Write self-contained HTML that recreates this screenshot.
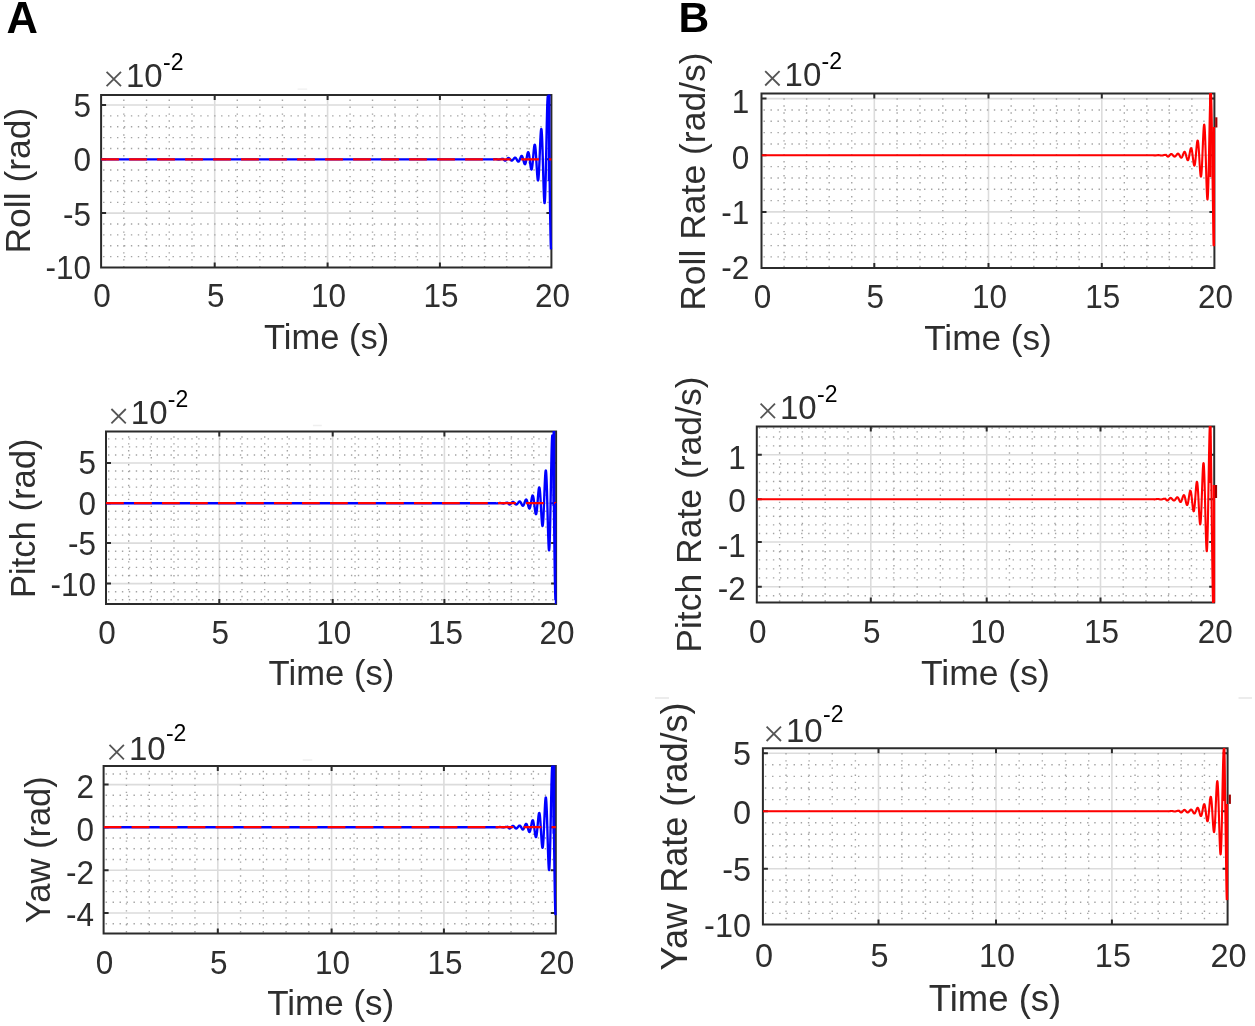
<!DOCTYPE html>
<html><head><meta charset="utf-8"><style>
html,body{margin:0;padding:0;background:#fff;width:1255px;height:1026px;overflow:hidden}
svg{display:block;will-change:transform}
</style></head><body>
<svg width="1255" height="1026" viewBox="0 0 1255 1026">
<rect width="1255" height="1026" fill="#fff"/>
<clipPath id="cA1"><rect x="101.1" y="94.9" width="450.3" height="172.6"/></clipPath>
<clipPath id="cA1d"><rect x="101.1" y="94.4" width="451.6" height="173.6"/></clipPath>
<g clip-path="url(#cA1)">
<path d="M214.7 94.9V267.5M327.6 94.9V267.5M439.9 94.9V267.5M101.1 105H551.4M101.1 159.3H551.4M101.1 213.1H551.4" stroke="#dcdcdc" stroke-width="1.6" fill="none"/>
<path d="M123.82 92.6V267.5M146.54 92.6V267.5M169.26 92.6V267.5M191.98 92.6V267.5M237.28 92.6V267.5M259.86 92.6V267.5M282.44 92.6V267.5M305.02 92.6V267.5M350.06 92.6V267.5M372.52 92.6V267.5M394.98 92.6V267.5M417.44 92.6V267.5M462.2 92.6V267.5M484.5 92.6V267.5M506.8 92.6V267.5M529.1 92.6V267.5M103.1 256.62H551.4M103.1 245.74H551.4M103.1 234.86H551.4M103.1 223.98H551.4M103.1 202.34H551.4M103.1 191.58H551.4M103.1 180.82H551.4M103.1 170.06H551.4M103.1 148.44H551.4M103.1 137.58H551.4M103.1 126.72H551.4M103.1 115.86H551.4" stroke="#a3a3a3" stroke-width="1.4" stroke-dasharray="1.4 5.54" fill="none"/>
</g>
<path d="M101.1 94.9H551.4V267.5H101.1ZM214.7 267.5v-5.0M214.7 94.9v5.0M327.6 267.5v-5.0M327.6 94.9v5.0M439.9 267.5v-5.0M439.9 94.9v5.0M101.1 105h5.0M551.4 105h-5.0M101.1 159.3h5.0M551.4 159.3h-5.0M101.1 213.1h5.0M551.4 213.1h-5.0M101.1 267.5h5.0M551.4 267.5h-5.0" stroke="#2b2b2b" stroke-width="2" fill="none" stroke-linejoin="miter"/>
<g clip-path="url(#cA1d)">
<polyline points="101.1,159.3 491,159.3 491.1,159.37 491.2,159.38 491.3,159.39 491.4,159.4 491.5,159.4 491.6,159.41 491.7,159.42 491.8,159.42 491.9,159.43 492,159.43 492.1,159.43 492.2,159.43 492.3,159.43 492.4,159.43 492.5,159.42 492.6,159.42 492.7,159.41 492.8,159.41 492.9,159.4 493,159.39 493.1,159.38 493.2,159.37 493.3,159.35 493.4,159.34 493.5,159.33 493.6,159.31 493.7,159.3 493.8,159.28 493.9,159.27 494,159.25 494.1,159.24 494.2,159.22 494.3,159.21 494.4,159.19 494.5,159.18 494.6,159.17 494.7,159.16 494.8,159.15 494.9,159.14 495,159.13 495.1,159.12 495.2,159.12 495.3,159.12 495.4,159.11 495.5,159.11 495.6,159.12 495.7,159.12 495.8,159.12 495.9,159.13 496,159.14 496.1,159.15 496.2,159.16 496.3,159.18 496.4,159.19 496.5,159.21 496.6,159.23 496.7,159.25 496.8,159.27 496.9,159.29 497,159.31 497.1,159.33 497.2,159.35 497.3,159.37 497.4,159.4 497.5,159.42 497.6,159.44 497.7,159.46 497.8,159.48 497.9,159.49 498,159.51 498.1,159.52 498.2,159.54 498.3,159.55 498.4,159.56 498.5,159.56 498.6,159.57 498.7,159.57 498.8,159.57 498.9,159.56 499,159.56 499.1,159.55 499.2,159.54 499.3,159.53 499.4,159.51 499.5,159.49 499.6,159.47 499.7,159.45 499.8,159.42 499.9,159.4 500,159.37 500.1,159.34 500.2,159.31 500.3,159.28 500.4,159.25 500.5,159.22 500.6,159.19 500.7,159.16 500.8,159.13 500.9,159.1 501,159.07 501.1,159.04 501.2,159.02 501.3,158.99 501.4,158.97 501.5,158.96 501.6,158.94 501.7,158.93 501.8,158.92 501.9,158.92 502,158.91 502.1,158.92 502.2,158.92 502.3,158.93 502.4,158.94 502.5,158.96 502.6,158.98 502.7,159 502.8,159.03 502.9,159.06 503,159.09 503.1,158.8 503.2,158.92 503.3,159.04 503.4,159.16 503.5,159.28 503.6,159.41 503.7,159.53 503.8,159.65 503.9,159.77 504,159.89 504.1,159.99 504.2,160.1 504.3,160.19 504.4,160.28 504.5,160.36 504.6,160.42 504.7,160.48 504.8,160.53 504.9,160.56 505,160.59 505.1,160.6 505.2,160.6 505.3,160.59 505.4,160.56 505.5,160.53 505.6,160.48 505.7,160.42 505.8,160.36 505.9,160.28 506,160.19 506.1,160.1 506.2,159.99 506.3,159.89 506.4,159.77 506.5,159.65 506.6,159.53 506.7,159.41 506.8,159.28 506.9,159.16 507,159.04 507.1,158.92 507.2,158.8 507.3,158.69 507.4,158.58 507.5,158.48 507.6,158.39 507.7,158.3 507.8,158.23 507.9,158.16 508,158.11 508.1,158.06 508.2,158.03 508.3,158.01 508.4,158 508.5,158 508.6,158.02 508.7,158.04 508.8,158.08 508.9,158.13 509,158.19 509.1,158.26 509.2,158.34 509.3,158.43 509.4,158.53 509.5,158.63 509.6,158.74 509.7,158.86 509.8,158.98 509.9,159.1 510,159.22 510.1,159.35 510.2,159.47 510.3,159.59 510.4,159.71 510.5,159.83 510.6,159.94 510.7,160.05 510.8,160.14 510.9,160.24 511,160.32 511.1,160.39 511.2,160.45 511.3,160.51 511.4,160.55 511.5,160.58 511.6,160.59 511.7,160.6 511.8,160.59 511.9,160.58 512,160.55 512.1,160.51 512.2,160.45 512.3,160.39 512.4,160.32 512.5,160.24 512.6,160.14 512.7,160.05 512.8,159.94 512.9,159.83 513,159.72 513.1,159.6 513.2,159.48 513.3,159.35 513.4,159.22 513.5,159.08 513.6,158.95 513.7,158.81 513.8,158.68 513.9,158.55 514,158.42 514.1,158.3 514.2,158.19 514.3,158.08 514.4,157.99 514.5,157.9 514.6,157.82 514.7,157.76 514.8,157.71 514.9,157.67 515,157.65 515.1,157.65 515.2,157.65 515.3,157.68 515.4,157.72 515.5,157.77 515.6,157.85 515.7,157.93 515.8,158.03 515.9,158.15 516,158.28 516.1,158.42 516.2,158.57 516.3,158.74 516.4,158.91 516.5,159.09 516.6,159.28 516.7,159.47 516.8,159.66 516.9,159.85 517,160.05 517.1,160.24 517.2,160.42 517.3,160.6 517.4,160.78 517.5,160.94 517.6,161.09 517.7,161.22 517.8,161.34 517.9,161.45 518,161.53 518.1,161.6 518.2,161.65 518.3,161.68 518.4,161.68 518.5,161.66 518.6,161.62 518.7,161.56 518.8,161.47 518.9,161.36 519,161.23 519.1,161.08 519.2,160.91 519.3,160.72 519.4,160.51 519.5,160.29 519.6,160.05 519.7,159.8 519.8,159.54 519.9,159.27 520,158.99 520.1,158.71 520.2,158.43 520.3,158.16 520.4,157.88 520.5,157.62 520.6,157.36 520.7,157.12 520.8,156.89 520.9,156.68 521,156.49 521.1,156.32 521.2,156.18 521.3,156.06 521.4,155.97 521.5,155.91 521.6,155.88 521.7,155.88 521.8,155.91 521.9,155.98 522,156.08 522.1,156.21 522.2,156.37 522.3,156.57 522.4,156.79 522.5,157.05 522.6,157.33 522.7,157.64 522.8,157.96 522.9,158.31 523,158.68 523.1,159.06 523.2,159.45 523.3,159.85 523.4,160.25 523.5,160.65 523.6,161.05 523.7,161.44 523.8,161.82 523.9,162.18 524,162.52 524.1,162.85 524.2,163.14 524.3,163.41 524.4,163.64 524.5,163.84 524.6,164 524.7,164.12 524.8,164.2 524.9,164.23 525,164.22 525.1,164.16 525.2,164.05 525.3,163.89 525.4,163.69 525.5,163.44 525.6,163.15 525.7,162.82 525.8,162.44 525.9,162.03 526,161.58 526.1,161.1 526.2,160.59 526.3,160.06 526.4,159.51 526.5,158.95 526.6,158.37 526.7,157.79 526.8,157.22 526.9,156.65 527,156.09 527.1,155.55 527.2,155.03 527.3,154.54 527.4,154.09 527.5,153.67 527.6,153.3 527.7,152.97 527.8,152.7 527.9,152.49 528,152.33 528.1,152.24 528.2,152.21 528.3,152.24 528.4,152.35 528.5,152.52 528.6,152.76 528.7,153.06 528.8,153.44 528.9,153.87 529,154.37 529.1,154.92 529.2,155.53 529.3,156.19 529.4,156.89 529.5,157.63 529.6,158.4 529.7,159.2 529.8,160.02 529.9,160.84 530,161.68 530.1,162.51 530.2,163.32 530.3,164.12 530.4,164.89 530.5,165.63 530.6,166.32 530.7,166.96 530.8,167.54 530.9,168.06 531,168.51 531.1,168.88 531.2,169.17 531.3,169.37 531.4,169.48 531.5,169.5 531.6,169.43 531.7,169.25 531.8,168.98 531.9,168.61 532,168.15 532.1,167.59 532.2,166.94 532.3,166.2 532.4,165.39 532.5,164.49 532.6,163.53 532.7,162.51 532.8,161.43 532.9,160.31 533,159.15 533.1,157.97 533.2,156.78 533.3,155.58 533.4,154.39 533.5,153.22 533.6,152.08 533.7,150.99 533.8,149.94 533.9,148.97 534,148.06 534.1,147.25 534.2,146.52 534.3,145.91 534.4,145.4 534.5,145.01 534.6,144.75 534.7,144.63 534.8,144.63 534.9,144.78 535,145.06 535.1,145.49 535.2,146.05 535.3,146.76 535.4,147.59 535.5,148.56 535.6,149.65 535.7,150.85 535.8,152.16 535.9,153.57 536,155.06 536.1,156.63 536.2,158.26 536.3,159.93 536.4,161.64 536.5,163.36 536.6,165.08 536.7,166.79 536.8,168.46 536.9,170.09 537,171.65 537.1,173.12 537.2,174.51 537.3,175.78 537.4,176.92 537.5,177.92 537.6,178.77 537.7,179.46 537.8,179.97 537.9,180.29 538,180.43 538.1,180.37 538.2,180.11 538.3,179.65 538.4,178.99 538.5,178.13 538.6,177.07 538.7,175.81 538.8,174.38 538.9,172.77 539,171 539.1,169.07 539.2,167.02 539.3,164.84 539.4,162.56 539.5,160.2 539.6,157.78 539.7,155.32 539.8,152.84 539.9,150.37 540,147.92 540.1,145.53 540.2,143.21 540.3,140.99 540.4,138.9 540.5,136.95 540.6,135.16 540.7,133.57 540.8,132.18 540.9,131.01 541,130.09 541.1,129.42 541.2,129.02 541.3,128.89 541.4,129.04 541.5,129.49 541.6,130.23 541.7,131.25 541.8,132.57 541.9,134.16 542,136.03 542.1,138.16 542.2,140.53 542.3,143.14 542.4,145.96 542.5,148.96 542.6,152.14 542.7,155.45 542.8,158.87 542.9,162.37 543,165.92 543.1,169.49 543.2,173.04 543.3,176.54 543.4,179.96 543.5,183.27 543.6,186.42 543.7,189.38 543.8,192.13 543.9,194.63 544,196.86 544.1,198.78 544.2,200.37 544.3,201.61 544.4,202.48 544.5,202.96 544.6,203.04 544.7,202.71 544.8,201.97 544.9,200.81 545,199.22 545.1,197.23 545.2,194.84 545.3,192.05 545.4,188.9 545.5,185.39 545.6,181.57 545.7,177.44 545.8,173.05 545.9,168.44 546,163.63 546.1,158.67 546.2,153.61 546.3,148.49 546.4,143.36 546.5,138.26 546.6,133.24 546.7,128.36 546.8,123.66 546.9,119.19 547,115 547.1,111.13 547.2,107.62 547.3,104.53 547.4,101.88 547.5,99.71 547.6,98.06 547.7,96.94 547.8,96.39 547.9,96.42 548,97.04 548.1,98.27 548.2,100.09 548.3,102.51 548.4,105.53 548.5,109.12 548.6,113.26 548.7,117.92 548.8,123.09 548.9,128.71 549,134.74 549.1,141.14 549.2,147.86 549.3,154.84 549.4,162.01 549.5,169.32 549.6,176.7 549.7,184.08 549.8,191.39 549.9,198.57 550,205.54 550.1,212.23 550.2,218.56 550.3,224.49 550.4,229.93 550.5,234.83 550.6,239.13 550.7,242.77 550.8,245.71 550.9,247.9 551,249.3" stroke="#0000ff" stroke-width="2.35" fill="none" stroke-linejoin="round"/>
<path d="M549.1 94V181" stroke="#0000ff" stroke-width="2.8"/>
<path d="M101.1 159.3H551.4" stroke="#ff0000" stroke-width="2.3" stroke-dasharray="17.8 10.2" fill="none"/>
</g>
<g font-family='"Liberation Sans", sans-serif' font-size="33" fill="#2e2e2e">
<text transform="translate(102.1 306.83) scale(0.955 1)" text-anchor="middle">0</text>
<text transform="translate(215.7 306.83) scale(0.955 1)" text-anchor="middle">5</text>
<text transform="translate(328.6 306.83) scale(0.955 1)" text-anchor="middle">10</text>
<text transform="translate(440.9 306.83) scale(0.955 1)" text-anchor="middle">15</text>
<text transform="translate(552.4 306.83) scale(0.955 1)" text-anchor="middle">20</text>
<text transform="translate(91 116.61) scale(0.955 1)" text-anchor="end">5</text>
<text transform="translate(91 171.21) scale(0.955 1)" text-anchor="end">0</text>
<text transform="translate(91 225.71) scale(0.955 1)" text-anchor="end">-5</text>
<text transform="translate(91 279.31) scale(0.955 1)" text-anchor="end">-10</text>
</g>
<text transform="translate(326.65 348.55) scale(0.972 1)" text-anchor="middle" font-family='"Liberation Sans", sans-serif' font-size="35.5" fill="#2e2e2e">Time (s)</text>
<text transform="translate(29.6 180.6) rotate(-90)" x="0" y="0" text-anchor="middle" font-family='"Liberation Sans", sans-serif' font-size="35.5" fill="#2e2e2e">Roll (rad)</text>
<path d="M106.6 71.8L121 86.2M121 71.8L106.6 86.2" stroke="#555" stroke-width="1.8"/>
<text x="126" y="86.8" font-family='"Liberation Sans", sans-serif' font-size="33" fill="#2e2e2e">10</text>
<text x="163" y="70" font-family='"Liberation Sans", sans-serif' font-size="23" fill="#000">-2</text>
<clipPath id="cA2"><rect x="106" y="431.6" width="450.1" height="172.4"/></clipPath>
<clipPath id="cA2d"><rect x="106" y="431.1" width="451.4" height="173.4"/></clipPath>
<g clip-path="url(#cA2)">
<path d="M219.3 431.6V604M332.7 431.6V604M444.4 431.6V604M106 463H556.1M106 503.2H556.1M106 543.1H556.1M106 583.6H556.1" stroke="#dcdcdc" stroke-width="1.6" fill="none"/>
<path d="M128.66 429.3V604M151.32 429.3V604M173.98 429.3V604M196.64 429.3V604M241.98 429.3V604M264.66 429.3V604M287.34 429.3V604M310.02 429.3V604M355.04 429.3V604M377.38 429.3V604M399.72 429.3V604M422.06 429.3V604M466.74 429.3V604M489.08 429.3V604M511.42 429.3V604M533.76 429.3V604M108 599.8H556.1M108 591.7H556.1M108 575.5H556.1M108 567.4H556.1M108 559.3H556.1M108 551.2H556.1M108 535.12H556.1M108 527.14H556.1M108 519.16H556.1M108 511.18H556.1M108 495.16H556.1M108 487.12H556.1M108 479.08H556.1M108 471.04H556.1M108 454.96H556.1M108 446.92H556.1M108 438.88H556.1" stroke="#a3a3a3" stroke-width="1.4" stroke-dasharray="1.4 5.54" fill="none"/>
</g>
<path d="M106 431.6H556.1V604H106ZM219.3 604v-5.0M219.3 431.6v5.0M332.7 604v-5.0M332.7 431.6v5.0M444.4 604v-5.0M444.4 431.6v5.0M106 463h5.0M556.1 463h-5.0M106 503.2h5.0M556.1 503.2h-5.0M106 543.1h5.0M556.1 543.1h-5.0M106 583.6h5.0M556.1 583.6h-5.0" stroke="#2b2b2b" stroke-width="2" fill="none" stroke-linejoin="miter"/>
<g clip-path="url(#cA2d)">
<polyline points="106,503.2 495.5,503.2 495.6,503.28 495.7,503.29 495.8,503.3 495.9,503.3 496,503.31 496.1,503.32 496.2,503.33 496.3,503.33 496.4,503.34 496.5,503.34 496.6,503.34 496.7,503.34 496.8,503.34 496.9,503.34 497,503.33 497.1,503.33 497.2,503.32 497.3,503.31 497.4,503.3 497.5,503.29 497.6,503.28 497.7,503.27 497.8,503.26 497.9,503.24 498,503.23 498.1,503.21 498.2,503.2 498.3,503.18 498.4,503.17 498.5,503.15 498.6,503.13 498.7,503.12 498.8,503.1 498.9,503.09 499,503.07 499.1,503.06 499.2,503.05 499.3,503.04 499.4,503.03 499.5,503.02 499.6,503.01 499.7,503 499.8,503 499.9,503 500,503 500.1,503 500.2,503.01 500.3,503.01 500.4,503.02 500.5,503.03 500.6,503.04 500.7,503.05 500.8,503.07 500.9,503.08 501,503.1 501.1,503.12 501.2,503.14 501.3,503.16 501.4,503.19 501.5,503.21 501.6,503.23 501.7,503.26 501.8,503.28 501.9,503.3 502,503.33 502.1,503.35 502.2,503.37 502.3,503.39 502.4,503.41 502.5,503.43 502.6,503.44 502.7,503.45 502.8,503.47 502.9,503.48 503,503.48 503.1,503.49 503.2,503.49 503.3,503.49 503.4,503.48 503.5,503.48 503.6,503.47 503.7,503.46 503.8,503.44 503.9,503.43 504,503.41 504.1,503.38 504.2,503.36 504.3,503.33 504.4,503.31 504.5,503.28 504.6,503.24 504.7,503.21 504.8,503.18 504.9,503.15 505,503.11 505.1,503.08 505.2,503.04 505.3,503.01 505.4,502.98 505.5,502.95 505.6,502.92 505.7,502.89 505.8,502.87 505.9,502.85 506,502.83 506.1,502.81 506.2,502.8 506.3,502.79 506.4,502.79 506.5,502.78 506.6,502.79 506.7,502.79 506.8,502.8 506.9,502.82 507,502.83 507.1,502.86 507.2,502.88 507.3,502.91 507.4,502.94 507.5,502.98 507.6,502.7 507.7,502.82 507.8,502.94 507.9,503.06 508,503.18 508.1,503.31 508.2,503.43 508.3,503.55 508.4,503.67 508.5,503.79 508.6,503.89 508.7,504 508.8,504.09 508.9,504.18 509,504.26 509.1,504.32 509.2,504.38 509.3,504.43 509.4,504.46 509.5,504.49 509.6,504.5 509.7,504.5 509.8,504.49 509.9,504.46 510,504.43 510.1,504.38 510.2,504.32 510.3,504.26 510.4,504.18 510.5,504.09 510.6,504 510.7,503.89 510.8,503.79 510.9,503.67 511,503.55 511.1,503.43 511.2,503.31 511.3,503.18 511.4,503.06 511.5,502.94 511.6,502.82 511.7,502.7 511.8,502.59 511.9,502.48 512,502.38 512.1,502.29 512.2,502.2 512.3,502.13 512.4,502.06 512.5,502.01 512.6,501.96 512.7,501.93 512.8,501.91 512.9,501.9 513,501.9 513.1,501.92 513.2,501.94 513.3,501.98 513.4,502.03 513.5,502.09 513.6,502.16 513.7,502.24 513.8,502.33 513.9,502.43 514,502.53 514.1,502.64 514.2,502.76 514.3,502.88 514.4,503 514.5,503.12 514.6,503.25 514.7,503.37 514.8,503.49 514.9,503.61 515,503.73 515.1,503.84 515.2,503.95 515.3,504.04 515.4,504.14 515.5,504.22 515.6,504.29 515.7,504.35 515.8,504.41 515.9,504.45 516,504.48 516.1,504.49 516.2,504.5 516.3,504.49 516.4,504.48 516.5,504.45 516.6,504.41 516.7,504.35 516.8,504.3 516.9,504.24 517,504.17 517.1,504.08 517.2,503.99 517.3,503.89 517.4,503.77 517.5,503.65 517.6,503.52 517.7,503.39 517.8,503.25 517.9,503.11 518,502.97 518.1,502.82 518.2,502.68 518.3,502.53 518.4,502.39 518.5,502.26 518.6,502.13 518.7,502 518.8,501.89 518.9,501.78 519,501.69 519.1,501.61 519.2,501.54 519.3,501.49 519.4,501.45 519.5,501.42 519.6,501.42 519.7,501.43 519.8,501.45 519.9,501.49 520,501.56 520.1,501.63 520.2,501.73 520.3,501.84 520.4,501.96 520.5,502.1 520.6,502.25 520.7,502.42 520.8,502.59 520.9,502.78 521,502.97 521.1,503.17 521.2,503.38 521.3,503.59 521.4,503.8 521.5,504.01 521.6,504.21 521.7,504.41 521.8,504.61 521.9,504.79 522,504.96 522.1,505.13 522.2,505.27 522.3,505.4 522.4,505.52 522.5,505.61 522.6,505.68 522.7,505.73 522.8,505.76 522.9,505.77 523,505.75 523.1,505.7 523.2,505.63 523.3,505.54 523.4,505.42 523.5,505.28 523.6,505.12 523.7,504.94 523.8,504.73 523.9,504.51 524,504.26 524.1,504.01 524.2,503.74 524.3,503.45 524.4,503.16 524.5,502.87 524.6,502.57 524.7,502.27 524.8,501.97 524.9,501.67 525,501.39 525.1,501.11 525.2,500.85 525.3,500.6 525.4,500.37 525.5,500.17 525.6,499.99 525.7,499.83 525.8,499.71 525.9,499.61 526,499.54 526.1,499.51 526.2,499.51 526.3,499.55 526.4,499.62 526.5,499.73 526.6,499.87 526.7,500.05 526.8,500.26 526.9,500.5 527,500.77 527.1,501.08 527.2,501.41 527.3,501.76 527.4,502.14 527.5,502.53 527.6,502.94 527.7,503.36 527.8,503.79 527.9,504.22 528,504.65 528.1,505.08 528.2,505.5 528.3,505.91 528.4,506.3 528.5,506.68 528.6,507.02 528.7,507.34 528.8,507.63 528.9,507.88 529,508.1 529.1,508.27 529.2,508.4 529.3,508.48 529.4,508.51 529.5,508.5 529.6,508.43 529.7,508.32 529.8,508.15 529.9,507.93 530,507.67 530.1,507.35 530.2,506.99 530.3,506.59 530.4,506.14 530.5,505.66 530.6,505.14 530.7,504.59 530.8,504.02 530.9,503.43 531,502.82 531.1,502.2 531.2,501.58 531.3,500.95 531.4,500.34 531.5,499.74 531.6,499.15 531.7,498.6 531.8,498.07 531.9,497.58 532,497.13 532.1,496.73 532.2,496.38 532.3,496.09 532.4,495.86 532.5,495.69 532.6,495.59 532.7,495.55 532.8,495.59 532.9,495.71 533,495.89 533.1,496.15 533.2,496.48 533.3,496.88 533.4,497.35 533.5,497.88 533.6,498.48 533.7,499.14 533.8,499.85 533.9,500.6 534,501.4 534.1,502.23 534.2,503.09 534.3,503.97 534.4,504.86 534.5,505.76 534.6,506.65 534.7,507.54 534.8,508.4 534.9,509.23 535,510.02 535.1,510.76 535.2,511.45 535.3,512.08 535.4,512.64 535.5,513.12 535.6,513.52 535.7,513.84 535.8,514.06 535.9,514.18 536,514.2 536.1,514.11 536.2,513.93 536.3,513.63 536.4,513.24 536.5,512.74 536.6,512.13 536.7,511.43 536.8,510.64 536.9,509.76 537,508.8 537.1,507.76 537.2,506.66 537.3,505.5 537.4,504.29 537.5,503.04 537.6,501.77 537.7,500.48 537.8,499.19 537.9,497.91 538,496.65 538.1,495.42 538.2,494.24 538.3,493.12 538.4,492.06 538.5,491.09 538.6,490.21 538.7,489.43 538.8,488.76 538.9,488.22 539,487.8 539.1,487.52 539.2,487.38 539.3,487.39 539.4,487.55 539.5,487.86 539.6,488.31 539.7,488.92 539.8,489.68 539.9,490.58 540,491.62 540.1,492.8 540.2,494.1 540.3,495.51 540.4,497.03 540.5,498.64 540.6,500.32 540.7,502.08 540.8,503.88 540.9,505.72 541,507.57 541.1,509.43 541.2,511.27 541.3,513.07 541.4,514.82 541.5,516.51 541.6,518.1 541.7,519.59 541.8,520.96 541.9,522.19 542,523.27 542.1,524.19 542.2,524.92 542.3,525.47 542.4,525.83 542.5,525.97 542.6,525.91 542.7,525.63 542.8,525.14 542.9,524.42 543,523.49 543.1,522.35 543.2,521 543.3,519.45 543.4,517.72 543.5,515.81 543.6,513.73 543.7,511.52 543.8,509.17 543.9,506.72 544,504.17 544.1,501.56 544.2,498.91 544.3,496.24 544.4,493.57 544.5,490.93 544.6,488.36 544.7,485.86 544.8,483.47 544.9,481.21 545,479.11 545.1,477.19 545.2,475.47 545.3,473.97 545.4,472.71 545.5,471.72 545.6,471 545.7,470.56 545.8,470.42 545.9,470.59 546,471.07 546.1,471.86 546.2,472.97 546.3,474.39 546.4,476.11 546.5,478.12 546.6,480.41 546.7,482.97 546.8,485.78 546.9,488.82 547,492.06 547.1,495.48 547.2,499.05 547.3,502.73 547.4,506.51 547.5,510.33 547.6,514.18 547.7,518.01 547.8,521.79 547.9,525.47 548,529.03 548.1,532.42 548.2,535.62 548.3,538.58 548.4,541.28 548.5,543.68 548.6,545.75 548.7,547.46 548.8,548.8 548.9,549.74 549,550.26 549.1,550.34 549.2,549.99 549.3,549.19 549.4,547.93 549.5,546.23 549.6,544.08 549.7,541.5 549.8,538.5 549.9,535.1 550,531.32 550.1,527.2 550.2,522.75 550.3,518.02 550.4,513.05 550.5,507.87 550.6,502.53 550.7,497.07 550.8,491.55 550.9,486.02 551,480.52 551.1,475.12 551.2,469.85 551.3,464.79 551.4,459.97 551.5,455.45 551.6,451.28 551.7,447.5 551.8,444.17 551.9,441.31 552,438.98 552.1,437.2 552.2,435.99 552.3,435.4 552.4,435.43 552.5,436.1 552.6,437.42 552.7,439.39 552.8,442 552.9,445.25 553,449.11 553.1,453.58 553.2,458.61 553.3,464.17 553.4,470.23 553.5,476.73 553.6,483.63 553.7,490.87 553.8,498.39 553.9,506.12 554,514 554.1,521.95 554.2,529.91 554.3,537.79 554.4,545.52 554.5,553.03 554.6,560.24 554.7,567.07 554.8,573.46 554.9,579.32 555,584.6 555.1,589.24 555.2,593.16 555.3,596.33 555.4,598.69 555.5,600.2" stroke="#0000ff" stroke-width="2.35" fill="none" stroke-linejoin="round"/>
<path d="M553.9 431V506" stroke="#0000ff" stroke-width="2.8"/>
<path d="M106 503.2H556.1" stroke="#ff0000" stroke-width="2.3" stroke-dasharray="17.8 10.2" fill="none"/>
<path d="M555.6 503V604" stroke="#0000ff" stroke-width="1.6"/>
</g>
<g font-family='"Liberation Sans", sans-serif' font-size="33" fill="#2e2e2e">
<text transform="translate(107 644.03) scale(0.955 1)" text-anchor="middle">0</text>
<text transform="translate(220.3 644.03) scale(0.955 1)" text-anchor="middle">5</text>
<text transform="translate(333.7 644.03) scale(0.955 1)" text-anchor="middle">10</text>
<text transform="translate(445.4 644.03) scale(0.955 1)" text-anchor="middle">15</text>
<text transform="translate(557.1 644.03) scale(0.955 1)" text-anchor="middle">20</text>
<text transform="translate(96 474.01) scale(0.955 1)" text-anchor="end">5</text>
<text transform="translate(96 514.91) scale(0.955 1)" text-anchor="end">0</text>
<text transform="translate(96 554.91) scale(0.955 1)" text-anchor="end">-5</text>
<text transform="translate(96 595.81) scale(0.955 1)" text-anchor="end">-10</text>
</g>
<text transform="translate(331.45 684.55) scale(0.976 1)" text-anchor="middle" font-family='"Liberation Sans", sans-serif' font-size="35.5" fill="#2e2e2e">Time (s)</text>
<text transform="translate(35 518.3) rotate(-90)" x="0" y="0" text-anchor="middle" font-family='"Liberation Sans", sans-serif' font-size="34.6" fill="#2e2e2e">Pitch (rad)</text>
<path d="M111.4 409L125.8 423.4M125.8 409L111.4 423.4" stroke="#555" stroke-width="1.8"/>
<text x="130.8" y="424" font-family='"Liberation Sans", sans-serif' font-size="33" fill="#2e2e2e">10</text>
<text x="167.8" y="407.2" font-family='"Liberation Sans", sans-serif' font-size="23" fill="#000">-2</text>
<clipPath id="cA3"><rect x="103.6" y="766.1" width="452.2" height="167.4"/></clipPath>
<clipPath id="cA3d"><rect x="103.6" y="765.6" width="453.5" height="168.4"/></clipPath>
<g clip-path="url(#cA3)">
<path d="M217.8 766.1V933.5M331.6 766.1V933.5M443.9 766.1V933.5M103.6 784.6H555.8M103.6 827.2H555.8M103.6 870.2H555.8M103.6 913H555.8" stroke="#dcdcdc" stroke-width="1.6" fill="none"/>
<path d="M126.44 763.8V933.5M149.28 763.8V933.5M172.12 763.8V933.5M194.96 763.8V933.5M240.56 763.8V933.5M263.32 763.8V933.5M286.08 763.8V933.5M308.84 763.8V933.5M354.06 763.8V933.5M376.52 763.8V933.5M398.98 763.8V933.5M421.44 763.8V933.5M466.28 763.8V933.5M488.66 763.8V933.5M511.04 763.8V933.5M533.42 763.8V933.5M105.6 923.7H555.8M105.6 902.3H555.8M105.6 891.6H555.8M105.6 880.9H555.8M105.6 859.45H555.8M105.6 848.7H555.8M105.6 837.95H555.8M105.6 816.55H555.8M105.6 805.9H555.8M105.6 795.25H555.8M105.6 773.95H555.8" stroke="#a3a3a3" stroke-width="1.4" stroke-dasharray="1.4 5.57" fill="none"/>
</g>
<path d="M103.6 766.1H555.8V933.5H103.6ZM217.8 933.5v-5.0M217.8 766.1v5.0M331.6 933.5v-5.0M331.6 766.1v5.0M443.9 933.5v-5.0M443.9 766.1v5.0M103.6 784.6h5.0M555.8 784.6h-5.0M103.6 827.2h5.0M555.8 827.2h-5.0M103.6 870.2h5.0M555.8 870.2h-5.0M103.6 913h5.0M555.8 913h-5.0" stroke="#2b2b2b" stroke-width="2" fill="none" stroke-linejoin="miter"/>
<g clip-path="url(#cA3d)">
<polyline points="103.6,827.2 495.5,827.2 495.6,827.27 495.7,827.28 495.8,827.29 495.9,827.3 496,827.3 496.1,827.31 496.2,827.31 496.3,827.32 496.4,827.32 496.5,827.33 496.6,827.33 496.7,827.33 496.8,827.33 496.9,827.32 497,827.32 497.1,827.32 497.2,827.31 497.3,827.3 497.4,827.29 497.5,827.29 497.6,827.28 497.7,827.26 497.8,827.25 497.9,827.24 498,827.23 498.1,827.21 498.2,827.2 498.3,827.18 498.4,827.17 498.5,827.15 498.6,827.14 498.7,827.12 498.8,827.11 498.9,827.1 499,827.08 499.1,827.07 499.2,827.06 499.3,827.05 499.4,827.04 499.5,827.03 499.6,827.03 499.7,827.02 499.8,827.02 499.9,827.02 500,827.02 500.1,827.02 500.2,827.02 500.3,827.03 500.4,827.04 500.5,827.04 500.6,827.05 500.7,827.07 500.8,827.08 500.9,827.1 501,827.11 501.1,827.13 501.2,827.15 501.3,827.17 501.4,827.19 501.5,827.21 501.6,827.23 501.7,827.25 501.8,827.27 501.9,827.29 502,827.31 502.1,827.33 502.2,827.35 502.3,827.37 502.4,827.39 502.5,827.4 502.6,827.42 502.7,827.43 502.8,827.44 502.9,827.45 503,827.46 503.1,827.46 503.2,827.46 503.3,827.46 503.4,827.46 503.5,827.45 503.6,827.44 503.7,827.43 503.8,827.42 503.9,827.4 504,827.39 504.1,827.37 504.2,827.35 504.3,827.32 504.4,827.3 504.5,827.27 504.6,827.24 504.7,827.21 504.8,827.18 504.9,827.15 505,827.12 505.1,827.09 505.2,827.06 505.3,827.03 505.4,827 505.5,826.97 505.6,826.95 505.7,826.92 505.8,826.9 505.9,826.88 506,826.86 506.1,826.85 506.2,826.84 506.3,826.83 506.4,826.82 506.5,826.82 506.6,826.82 506.7,826.83 506.8,826.84 506.9,826.85 507,826.87 507.1,826.89 507.2,826.91 507.3,826.94 507.4,826.97 507.5,827 507.6,826.7 507.7,826.82 507.8,826.94 507.9,827.06 508,827.18 508.1,827.31 508.2,827.43 508.3,827.55 508.4,827.67 508.5,827.79 508.6,827.89 508.7,828 508.8,828.09 508.9,828.18 509,828.26 509.1,828.32 509.2,828.38 509.3,828.43 509.4,828.46 509.5,828.49 509.6,828.5 509.7,828.5 509.8,828.49 509.9,828.46 510,828.43 510.1,828.38 510.2,828.32 510.3,828.26 510.4,828.18 510.5,828.09 510.6,828 510.7,827.89 510.8,827.79 510.9,827.67 511,827.55 511.1,827.43 511.2,827.31 511.3,827.18 511.4,827.06 511.5,826.94 511.6,826.82 511.7,826.7 511.8,826.59 511.9,826.48 512,826.38 512.1,826.29 512.2,826.2 512.3,826.13 512.4,826.06 512.5,826.01 512.6,825.96 512.7,825.93 512.8,825.91 512.9,825.9 513,825.9 513.1,825.92 513.2,825.94 513.3,825.98 513.4,826.03 513.5,826.09 513.6,826.16 513.7,826.24 513.8,826.33 513.9,826.43 514,826.53 514.1,826.64 514.2,826.76 514.3,826.88 514.4,827 514.5,827.12 514.6,827.25 514.7,827.37 514.8,827.49 514.9,827.61 515,827.73 515.1,827.84 515.2,827.95 515.3,828.04 515.4,828.14 515.5,828.22 515.6,828.29 515.7,828.35 515.8,828.41 515.9,828.45 516,828.48 516.1,828.49 516.2,828.5 516.3,828.49 516.4,828.48 516.5,828.45 516.6,828.41 516.7,828.35 516.8,828.29 516.9,828.22 517,828.14 517.1,828.04 517.2,827.95 517.3,827.84 517.4,827.73 517.5,827.61 517.6,827.49 517.7,827.37 517.8,827.25 517.9,827.12 518,826.99 518.1,826.86 518.2,826.72 518.3,826.59 518.4,826.47 518.5,826.34 518.6,826.23 518.7,826.11 518.8,826.01 518.9,825.92 519,825.83 519.1,825.76 519.2,825.69 519.3,825.65 519.4,825.61 519.5,825.59 519.6,825.58 519.7,825.59 519.8,825.61 519.9,825.65 520,825.71 520.1,825.78 520.2,825.86 520.3,825.96 520.4,826.08 520.5,826.2 520.6,826.34 520.7,826.49 520.8,826.65 520.9,826.82 521,826.99 521.1,827.18 521.2,827.36 521.3,827.55 521.4,827.74 521.5,827.93 521.6,828.12 521.7,828.3 521.8,828.48 521.9,828.64 522,828.8 522.1,828.95 522.2,829.08 522.3,829.2 522.4,829.3 522.5,829.39 522.6,829.45 522.7,829.5 522.8,829.52 522.9,829.53 523,829.51 523.1,829.47 523.2,829.41 523.3,829.32 523.4,829.22 523.5,829.09 523.6,828.94 523.7,828.77 523.8,828.59 523.9,828.38 524,828.17 524.1,827.93 524.2,827.69 524.3,827.43 524.4,827.17 524.5,826.9 524.6,826.62 524.7,826.35 524.8,826.08 524.9,825.81 525,825.55 525.1,825.3 525.2,825.07 525.3,824.84 525.4,824.64 525.5,824.45 525.6,824.29 525.7,824.14 525.8,824.03 525.9,823.94 526,823.88 526.1,823.85 526.2,823.85 526.3,823.89 526.4,823.95 526.5,824.05 526.6,824.18 526.7,824.34 526.8,824.53 526.9,824.75 527,825 527.1,825.27 527.2,825.57 527.3,825.89 527.4,826.23 527.5,826.59 527.6,826.96 527.7,827.34 527.8,827.73 527.9,828.13 528,828.52 528.1,828.91 528.2,829.29 528.3,829.66 528.4,830.02 528.5,830.35 528.6,830.67 528.7,830.96 528.8,831.22 528.9,831.45 529,831.64 529.1,831.8 529.2,831.91 529.3,831.99 529.4,832.02 529.5,832.01 529.6,831.95 529.7,831.84 529.8,831.69 529.9,831.49 530,831.25 530.1,830.97 530.2,830.64 530.3,830.27 530.4,829.87 530.5,829.43 530.6,828.96 530.7,828.46 530.8,827.94 530.9,827.41 531,826.85 531.1,826.29 531.2,825.73 531.3,825.16 531.4,824.6 531.5,824.06 531.6,823.53 531.7,823.02 531.8,822.55 531.9,822.1 532,821.69 532.1,821.33 532.2,821.01 532.3,820.75 532.4,820.54 532.5,820.38 532.6,820.29 532.7,820.26 532.8,820.3 532.9,820.4 533,820.57 533.1,820.8 533.2,821.1 533.3,821.47 533.4,821.89 533.5,822.38 533.6,822.92 533.7,823.51 533.8,824.16 533.9,824.84 534,825.57 534.1,826.32 534.2,827.1 534.3,827.9 534.4,828.71 534.5,829.52 534.6,830.33 534.7,831.13 534.8,831.91 534.9,832.67 535,833.38 535.1,834.06 535.2,834.69 535.3,835.26 535.4,835.77 535.5,836.2 535.6,836.57 535.7,836.85 535.8,837.05 535.9,837.16 536,837.18 536.1,837.1 536.2,836.93 536.3,836.67 536.4,836.31 536.5,835.85 536.6,835.31 536.7,834.67 536.8,833.95 536.9,833.15 537,832.28 537.1,831.34 537.2,830.34 537.3,829.28 537.4,828.19 537.5,827.06 537.6,825.9 537.7,824.73 537.8,823.56 537.9,822.4 538,821.26 538.1,820.14 538.2,819.07 538.3,818.05 538.4,817.09 538.5,816.21 538.6,815.41 538.7,814.71 538.8,814.1 538.9,813.61 539,813.23 539.1,812.98 539.2,812.85 539.3,812.86 539.4,813 539.5,813.28 539.6,813.7 539.7,814.25 539.8,814.94 539.9,815.75 540,816.7 540.1,817.76 540.2,818.94 540.3,820.22 540.4,821.6 540.5,823.06 540.6,824.59 540.7,826.18 540.8,827.82 540.9,829.49 541,831.17 541.1,832.85 541.2,834.52 541.3,836.16 541.4,837.75 541.5,839.27 541.6,840.72 541.7,842.07 541.8,843.31 541.9,844.43 542,845.41 542.1,846.24 542.2,846.91 542.3,847.41 542.4,847.73 542.5,847.86 542.6,847.8 542.7,847.55 542.8,847.1 542.9,846.45 543,845.61 543.1,844.57 543.2,843.35 543.3,841.94 543.4,840.37 543.5,838.64 543.6,836.76 543.7,834.75 543.8,832.62 543.9,830.39 544,828.08 544.1,825.71 544.2,823.31 544.3,820.88 544.4,818.46 544.5,816.07 544.6,813.73 544.7,811.47 544.8,809.3 544.9,807.25 545,805.34 545.1,803.6 545.2,802.04 545.3,800.68 545.4,799.54 545.5,798.64 545.6,797.98 545.7,797.59 545.8,797.46 545.9,797.62 546,798.05 546.1,798.77 546.2,799.78 546.3,801.06 546.4,802.62 546.5,804.45 546.6,806.53 546.7,808.85 546.8,811.4 546.9,814.15 547,817.09 547.1,820.19 547.2,823.43 547.3,826.78 547.4,830.2 547.5,833.67 547.6,837.16 547.7,840.64 547.8,844.06 547.9,847.4 548,850.63 548.1,853.71 548.2,856.61 548.3,859.3 548.4,861.75 548.5,863.92 548.6,865.8 548.7,867.35 548.8,868.57 548.9,869.42 549,869.89 549.1,869.97 549.2,869.65 549.3,868.92 549.4,867.78 549.5,866.24 549.6,864.29 549.7,861.95 549.8,859.23 549.9,856.14 550,852.71 550.1,848.97 550.2,844.94 550.3,840.65 550.4,836.13 550.5,831.43 550.6,826.59 550.7,821.64 550.8,816.63 550.9,811.61 551,806.63 551.1,801.72 551.2,796.95 551.3,792.35 551.4,787.98 551.5,783.88 551.6,780.1 551.7,776.67 551.8,773.64 551.9,771.06 552,768.94 552.1,767.32 552.2,766.23 552.3,765.69 552.4,765.72 552.5,766.33 552.6,767.52 552.7,769.31 552.8,771.68 552.9,774.62 553,778.13 553.1,782.18 553.2,786.74 553.3,791.79 553.4,797.29 553.5,803.19 553.6,809.45 553.7,816.01 553.8,822.83 553.9,829.85 554,837 554.1,844.21 554.2,851.43 554.3,858.58 554.4,865.6 554.5,872.41 554.6,878.95 554.7,885.15 554.8,890.94 554.9,896.26 555,901.05 555.1,905.25 555.2,908.81 555.3,911.69 555.4,913.83 555.5,915.2" stroke="#0000ff" stroke-width="2.35" fill="none" stroke-linejoin="round"/>
<path d="M553.9 765V833.7" stroke="#0000ff" stroke-width="2.8"/>
<path d="M103.6 827.2H555.8" stroke="#ff0000" stroke-width="2.3" stroke-dasharray="17.8 10.2" fill="none"/>
</g>
<g font-family='"Liberation Sans", sans-serif' font-size="33" fill="#2e2e2e">
<text transform="translate(104.6 974.33) scale(0.955 1)" text-anchor="middle">0</text>
<text transform="translate(218.8 974.33) scale(0.955 1)" text-anchor="middle">5</text>
<text transform="translate(332.6 974.33) scale(0.955 1)" text-anchor="middle">10</text>
<text transform="translate(444.9 974.33) scale(0.955 1)" text-anchor="middle">15</text>
<text transform="translate(556.8 974.33) scale(0.955 1)" text-anchor="middle">20</text>
<text transform="translate(94.1 798.31) scale(0.955 1)" text-anchor="end">2</text>
<text transform="translate(94.1 841.21) scale(0.955 1)" text-anchor="end">0</text>
<text transform="translate(94.1 884.11) scale(0.955 1)" text-anchor="end">-2</text>
<text transform="translate(94.1 925.51) scale(0.955 1)" text-anchor="end">-4</text>
</g>
<text transform="translate(330.7 1014.75) scale(0.987 1)" text-anchor="middle" font-family='"Liberation Sans", sans-serif' font-size="35.5" fill="#2e2e2e">Time (s)</text>
<text transform="translate(50.2 849.7) rotate(-90)" x="0" y="0" text-anchor="middle" font-family='"Liberation Sans", sans-serif' font-size="34.5" fill="#2e2e2e">Yaw (rad)</text>
<path d="M109.5 744.9L123.9 759.3M123.9 744.9L109.5 759.3" stroke="#555" stroke-width="1.8"/>
<text x="128.9" y="759.9" font-family='"Liberation Sans", sans-serif' font-size="33" fill="#2e2e2e">10</text>
<text x="165.9" y="741.1" font-family='"Liberation Sans", sans-serif' font-size="23" fill="#000">-2</text>
<clipPath id="cB1"><rect x="761.5" y="93.6" width="452.9" height="174.5"/></clipPath>
<clipPath id="cB1d"><rect x="761.5" y="93.1" width="454.2" height="175.5"/></clipPath>
<g clip-path="url(#cB1)">
<path d="M874.3 93.6V268.1M988.5 93.6V268.1M1101.8 93.6V268.1M761.5 98.6H1214.4M761.5 155.3H1214.4M761.5 211.9H1214.4" stroke="#dcdcdc" stroke-width="1.6" fill="none"/>
<path d="M784.06 91.3V268.1M806.62 91.3V268.1M829.18 91.3V268.1M851.74 91.3V268.1M897.14 91.3V268.1M919.98 91.3V268.1M942.82 91.3V268.1M965.66 91.3V268.1M1011.16 91.3V268.1M1033.82 91.3V268.1M1056.48 91.3V268.1M1079.14 91.3V268.1M1124.32 91.3V268.1M1146.84 91.3V268.1M1169.36 91.3V268.1M1191.88 91.3V268.1M763.5 256.86H1214.4M763.5 245.62H1214.4M763.5 234.38H1214.4M763.5 223.14H1214.4M763.5 200.58H1214.4M763.5 189.26H1214.4M763.5 177.94H1214.4M763.5 166.62H1214.4M763.5 143.96H1214.4M763.5 132.62H1214.4M763.5 121.28H1214.4M763.5 109.94H1214.4" stroke="#a3a3a3" stroke-width="1.4" stroke-dasharray="1.4 5.58" fill="none"/>
</g>
<path d="M761.5 93.6H1214.4V268.1H761.5ZM874.3 268.1v-5.0M874.3 93.6v5.0M988.5 268.1v-5.0M988.5 93.6v5.0M1101.8 268.1v-5.0M1101.8 93.6v5.0M761.5 98.6h5.0M1214.4 98.6h-5.0M761.5 155.3h5.0M1214.4 155.3h-5.0M761.5 211.9h5.0M1214.4 211.9h-5.0M761.5 268.1h5.0M1214.4 268.1h-5.0" stroke="#2b2b2b" stroke-width="2" fill="none" stroke-linejoin="miter"/>
<g clip-path="url(#cB1d)">
<polyline points="761.5,155.3 1153.9,155.3 1154,155.37 1154.1,155.38 1154.2,155.39 1154.3,155.4 1154.4,155.41 1154.5,155.41 1154.6,155.42 1154.7,155.42 1154.8,155.43 1154.9,155.43 1155,155.43 1155.1,155.43 1155.2,155.43 1155.3,155.43 1155.4,155.42 1155.5,155.42 1155.6,155.41 1155.7,155.41 1155.8,155.4 1155.9,155.39 1156,155.38 1156.1,155.37 1156.2,155.35 1156.3,155.34 1156.4,155.33 1156.5,155.31 1156.6,155.3 1156.7,155.28 1156.8,155.27 1156.9,155.25 1157,155.24 1157.1,155.22 1157.2,155.21 1157.3,155.19 1157.4,155.18 1157.5,155.17 1157.6,155.16 1157.7,155.15 1157.8,155.14 1157.9,155.13 1158,155.12 1158.1,155.12 1158.2,155.11 1158.3,155.11 1158.4,155.11 1158.5,155.11 1158.6,155.12 1158.7,155.12 1158.8,155.13 1158.9,155.14 1159,155.15 1159.1,155.16 1159.2,155.18 1159.3,155.19 1159.4,155.21 1159.5,155.23 1159.6,155.25 1159.7,155.27 1159.8,155.29 1159.9,155.31 1160,155.33 1160.1,155.35 1160.2,155.37 1160.3,155.4 1160.4,155.42 1160.5,155.44 1160.6,155.46 1160.7,155.48 1160.8,155.5 1160.9,155.51 1161,155.53 1161.1,155.54 1161.2,155.55 1161.3,155.56 1161.4,155.57 1161.5,155.57 1161.6,155.57 1161.7,155.57 1161.8,155.57 1161.9,155.56 1162,155.55 1162.1,155.54 1162.2,155.53 1162.3,155.51 1162.4,155.49 1162.5,155.47 1162.6,155.45 1162.7,155.43 1162.8,155.4 1162.9,155.37 1163,155.34 1163.1,155.31 1163.2,155.28 1163.3,155.25 1163.4,155.22 1163.5,155.19 1163.6,155.15 1163.7,155.12 1163.8,155.09 1163.9,155.07 1164,155.04 1164.1,155.01 1164.2,154.99 1164.3,154.97 1164.4,154.95 1164.5,154.94 1164.6,154.93 1164.7,154.92 1164.8,154.91 1164.9,154.91 1165,154.91 1165.1,154.92 1165.2,154.93 1165.3,154.94 1165.4,154.96 1165.5,154.98 1165.6,155 1165.7,155.03 1165.8,155.06 1165.9,155.09 1166,154.8 1166.1,154.92 1166.2,155.04 1166.3,155.16 1166.4,155.28 1166.5,155.41 1166.6,155.53 1166.7,155.65 1166.8,155.77 1166.9,155.89 1167,155.99 1167.1,156.1 1167.2,156.19 1167.3,156.28 1167.4,156.36 1167.5,156.42 1167.6,156.48 1167.7,156.53 1167.8,156.56 1167.9,156.59 1168,156.6 1168.1,156.6 1168.2,156.59 1168.3,156.56 1168.4,156.53 1168.5,156.48 1168.6,156.42 1168.7,156.36 1168.8,156.28 1168.9,156.19 1169,156.1 1169.1,155.99 1169.2,155.89 1169.3,155.77 1169.4,155.65 1169.5,155.53 1169.6,155.41 1169.7,155.28 1169.8,155.16 1169.9,155.04 1170,154.92 1170.1,154.8 1170.2,154.69 1170.3,154.58 1170.4,154.48 1170.5,154.39 1170.6,154.3 1170.7,154.23 1170.8,154.16 1170.9,154.11 1171,154.06 1171.1,154.03 1171.2,154.01 1171.3,154 1171.4,154 1171.5,154.02 1171.6,154.04 1171.7,154.08 1171.8,154.13 1171.9,154.19 1172,154.26 1172.1,154.34 1172.2,154.43 1172.3,154.53 1172.4,154.63 1172.5,154.74 1172.6,154.86 1172.7,154.98 1172.8,155.1 1172.9,155.22 1173,155.35 1173.1,155.47 1173.2,155.59 1173.3,155.71 1173.4,155.83 1173.5,155.94 1173.6,156.05 1173.7,156.14 1173.8,156.24 1173.9,156.32 1174,156.39 1174.1,156.45 1174.2,156.51 1174.3,156.55 1174.4,156.58 1174.5,156.59 1174.6,156.6 1174.7,156.59 1174.8,156.58 1174.9,156.55 1175,156.51 1175.1,156.45 1175.2,156.39 1175.3,156.32 1175.4,156.24 1175.5,156.14 1175.6,156.05 1175.7,155.94 1175.8,155.84 1175.9,155.72 1176,155.6 1176.1,155.48 1176.2,155.35 1176.3,155.22 1176.4,155.08 1176.5,154.94 1176.6,154.81 1176.7,154.67 1176.8,154.54 1176.9,154.41 1177,154.29 1177.1,154.18 1177.2,154.07 1177.3,153.97 1177.4,153.88 1177.5,153.81 1177.6,153.74 1177.7,153.69 1177.8,153.66 1177.9,153.63 1178,153.63 1178.1,153.64 1178.2,153.66 1178.3,153.7 1178.4,153.76 1178.5,153.83 1178.6,153.92 1178.7,154.02 1178.8,154.14 1178.9,154.27 1179,154.41 1179.1,154.57 1179.2,154.73 1179.3,154.91 1179.4,155.09 1179.5,155.28 1179.6,155.47 1179.7,155.66 1179.8,155.86 1179.9,156.06 1180,156.25 1180.1,156.44 1180.2,156.62 1180.3,156.79 1180.4,156.96 1180.5,157.11 1180.6,157.24 1180.7,157.37 1180.8,157.47 1180.9,157.56 1181,157.63 1181.1,157.68 1181.2,157.7 1181.3,157.71 1181.4,157.69 1181.5,157.65 1181.6,157.58 1181.7,157.5 1181.8,157.39 1181.9,157.26 1182,157.1 1182.1,156.93 1182.2,156.74 1182.3,156.53 1182.4,156.3 1182.5,156.06 1182.6,155.8 1182.7,155.54 1182.8,155.27 1182.9,154.99 1183,154.71 1183.1,154.42 1183.2,154.14 1183.3,153.87 1183.4,153.6 1183.5,153.34 1183.6,153.09 1183.7,152.86 1183.8,152.65 1183.9,152.46 1184,152.29 1184.1,152.14 1184.2,152.02 1184.3,151.93 1184.4,151.87 1184.5,151.84 1184.6,151.84 1184.7,151.87 1184.8,151.94 1184.9,152.04 1185,152.18 1185.1,152.34 1185.2,152.54 1185.3,152.77 1185.4,153.02 1185.5,153.31 1185.6,153.62 1185.7,153.95 1185.8,154.3 1185.9,154.67 1186,155.05 1186.1,155.45 1186.2,155.85 1186.3,156.26 1186.4,156.66 1186.5,157.07 1186.6,157.46 1186.7,157.84 1186.8,158.21 1186.9,158.56 1187,158.89 1187.1,159.19 1187.2,159.46 1187.3,159.69 1187.4,159.89 1187.5,160.05 1187.6,160.17 1187.7,160.25 1187.8,160.28 1187.9,160.27 1188,160.21 1188.1,160.1 1188.2,159.94 1188.3,159.74 1188.4,159.49 1188.5,159.2 1188.6,158.86 1188.7,158.48 1188.8,158.06 1188.9,157.61 1189,157.12 1189.1,156.61 1189.2,156.07 1189.3,155.51 1189.4,154.94 1189.5,154.36 1189.6,153.78 1189.7,153.19 1189.8,152.62 1189.9,152.05 1190,151.5 1190.1,150.98 1190.2,150.49 1190.3,150.03 1190.4,149.61 1190.5,149.23 1190.6,148.9 1190.7,148.63 1190.8,148.41 1190.9,148.25 1191,148.16 1191.1,148.13 1191.2,148.16 1191.3,148.27 1191.4,148.44 1191.5,148.68 1191.6,148.99 1191.7,149.37 1191.8,149.81 1191.9,150.31 1192,150.87 1192.1,151.49 1192.2,152.15 1192.3,152.86 1192.4,153.61 1192.5,154.39 1192.6,155.2 1192.7,156.02 1192.8,156.86 1192.9,157.7 1193,158.54 1193.1,159.37 1193.2,160.17 1193.3,160.95 1193.4,161.7 1193.5,162.4 1193.6,163.04 1193.7,163.63 1193.8,164.16 1193.9,164.61 1194,164.99 1194.1,165.28 1194.2,165.48 1194.3,165.6 1194.4,165.62 1194.5,165.54 1194.6,165.36 1194.7,165.09 1194.8,164.72 1194.9,164.25 1195,163.68 1195.1,163.03 1195.2,162.28 1195.3,161.45 1195.4,160.55 1195.5,159.58 1195.6,158.54 1195.7,157.45 1195.8,156.32 1195.9,155.15 1196,153.96 1196.1,152.75 1196.2,151.54 1196.3,150.34 1196.4,149.15 1196.5,148 1196.6,146.89 1196.7,145.84 1196.8,144.85 1196.9,143.94 1197,143.11 1197.1,142.38 1197.2,141.76 1197.3,141.25 1197.4,140.86 1197.5,140.59 1197.6,140.46 1197.7,140.47 1197.8,140.62 1197.9,140.9 1198,141.33 1198.1,141.91 1198.2,142.62 1198.3,143.46 1198.4,144.44 1198.5,145.54 1198.6,146.76 1198.7,148.08 1198.8,149.51 1198.9,151.02 1199,152.6 1199.1,154.25 1199.2,155.94 1199.3,157.66 1199.4,159.4 1199.5,161.14 1199.6,162.87 1199.7,164.56 1199.8,166.21 1199.9,167.78 1200,169.28 1200.1,170.68 1200.2,171.96 1200.3,173.11 1200.4,174.13 1200.5,174.99 1200.6,175.68 1200.7,176.2 1200.8,176.53 1200.9,176.67 1201,176.61 1201.1,176.34 1201.2,175.88 1201.3,175.21 1201.4,174.34 1201.5,173.26 1201.6,172 1201.7,170.55 1201.8,168.92 1201.9,167.13 1202,165.18 1202.1,163.1 1202.2,160.9 1202.3,158.6 1202.4,156.21 1202.5,153.76 1202.6,151.27 1202.7,148.77 1202.8,146.27 1202.9,143.79 1203,141.37 1203.1,139.03 1203.2,136.79 1203.3,134.67 1203.4,132.7 1203.5,130.9 1203.6,129.28 1203.7,127.88 1203.8,126.7 1203.9,125.76 1204,125.09 1204.1,124.68 1204.2,124.55 1204.3,124.71 1204.4,125.16 1204.5,125.9 1204.6,126.94 1204.7,128.27 1204.8,129.88 1204.9,131.77 1205,133.92 1205.1,136.33 1205.2,138.96 1205.3,141.81 1205.4,144.85 1205.5,148.06 1205.6,151.4 1205.7,154.86 1205.8,158.4 1205.9,161.99 1206,165.6 1206.1,169.19 1206.2,172.74 1206.3,176.19 1206.4,179.53 1206.5,182.72 1206.6,185.72 1206.7,188.49 1206.8,191.02 1206.9,193.27 1207,195.21 1207.1,196.82 1207.2,198.08 1207.3,198.96 1207.4,199.45 1207.5,199.53 1207.6,199.2 1207.7,198.44 1207.8,197.27 1207.9,195.67 1208,193.65 1208.1,191.23 1208.2,188.42 1208.3,185.23 1208.4,181.68 1208.5,177.81 1208.6,173.64 1208.7,169.21 1208.8,164.54 1208.9,159.68 1209,154.67 1209.1,149.55 1209.2,144.37 1209.3,139.18 1209.4,134.03 1209.5,128.95 1209.6,124.02 1209.7,119.26 1209.8,114.74 1209.9,110.5 1210,106.59 1210.1,103.05 1210.2,99.92 1210.3,97.24 1210.4,95.05 1210.5,93.38 1210.6,92.25 1210.7,91.69 1210.8,91.72 1210.9,92.35 1211,93.59 1211.1,95.43 1211.2,97.88 1211.3,100.93 1211.4,104.56 1211.5,108.74 1211.6,113.46 1211.7,118.69 1211.8,124.37 1211.9,130.47 1212,136.94 1212.1,143.73 1212.2,150.79 1212.3,158.04 1212.4,165.43 1212.5,172.89 1212.6,180.36 1212.7,187.75 1212.8,195.01 1212.9,202.05 1213,208.81 1213.1,215.22 1213.2,221.21 1213.3,226.72 1213.4,231.67 1213.5,236.01 1213.6,239.7 1213.7,242.67 1213.8,244.88 1213.9,246.3" stroke="#ff0000" stroke-width="2.1" fill="none" stroke-linejoin="round"/>
<path d="M1210.3 93V177" stroke="#ff0000" stroke-width="2.4"/>
<path d="M1213.9 127V246" stroke="#ff0000" stroke-width="2.4"/>
</g>
<path d="M1216.3 117.3V127.5" stroke="#a00000" stroke-width="2.2"/>
<g font-family='"Liberation Sans", sans-serif' font-size="33" fill="#2e2e2e">
<text transform="translate(762.5 307.73) scale(0.955 1)" text-anchor="middle">0</text>
<text transform="translate(875.3 307.73) scale(0.955 1)" text-anchor="middle">5</text>
<text transform="translate(989.5 307.73) scale(0.955 1)" text-anchor="middle">10</text>
<text transform="translate(1102.8 307.73) scale(0.955 1)" text-anchor="middle">15</text>
<text transform="translate(1215.4 307.73) scale(0.955 1)" text-anchor="middle">20</text>
<text transform="translate(749.3 112.61) scale(0.955 1)" text-anchor="end">1</text>
<text transform="translate(749.3 169.11) scale(0.955 1)" text-anchor="end">0</text>
<text transform="translate(749.3 223.71) scale(0.955 1)" text-anchor="end">-1</text>
<text transform="translate(749.3 279.21) scale(0.955 1)" text-anchor="end">-2</text>
</g>
<text transform="translate(987.95 349.65) scale(0.991 1)" text-anchor="middle" font-family='"Liberation Sans", sans-serif' font-size="35.5" fill="#2e2e2e">Time (s)</text>
<text transform="translate(705.2 181.6) rotate(-90)" x="0" y="0" text-anchor="middle" font-family='"Liberation Sans", sans-serif' font-size="35.5" fill="#2e2e2e">Roll Rate (rad/s)</text>
<path d="M765.2 71.1L779.6 85.5M779.6 71.1L765.2 85.5" stroke="#555" stroke-width="1.8"/>
<text x="784.6" y="86.1" font-family='"Liberation Sans", sans-serif' font-size="33" fill="#2e2e2e">10</text>
<text x="821.6" y="69.3" font-family='"Liberation Sans", sans-serif' font-size="23" fill="#000">-2</text>
<clipPath id="cB2"><rect x="756.8" y="426.4" width="457.4" height="176"/></clipPath>
<clipPath id="cB2d"><rect x="756.8" y="425.9" width="458.7" height="177"/></clipPath>
<g clip-path="url(#cB2)">
<path d="M870.8 426.4V602.4M986.7 426.4V602.4M1100.5 426.4V602.4M756.8 454.8H1214.2M756.8 499.2H1214.2M756.8 542H1214.2M756.8 586.8H1214.2" stroke="#dcdcdc" stroke-width="1.6" fill="none"/>
<path d="M779.6 424.1V602.4M802.4 424.1V602.4M825.2 424.1V602.4M848 424.1V602.4M893.98 424.1V602.4M917.16 424.1V602.4M940.34 424.1V602.4M963.52 424.1V602.4M1009.46 424.1V602.4M1032.22 424.1V602.4M1054.98 424.1V602.4M1077.74 424.1V602.4M1123.24 424.1V602.4M1145.98 424.1V602.4M1168.72 424.1V602.4M1191.46 424.1V602.4M758.8 595.76H1214.2M758.8 577.84H1214.2M758.8 568.88H1214.2M758.8 559.92H1214.2M758.8 550.96H1214.2M758.8 533.44H1214.2M758.8 524.88H1214.2M758.8 516.32H1214.2M758.8 507.76H1214.2M758.8 490.32H1214.2M758.8 481.44H1214.2M758.8 472.56H1214.2M758.8 463.68H1214.2M758.8 445.92H1214.2M758.8 437.04H1214.2M758.8 428.16H1214.2" stroke="#a3a3a3" stroke-width="1.4" stroke-dasharray="1.4 5.65" fill="none"/>
</g>
<path d="M756.8 426.4H1214.2V602.4H756.8ZM870.8 602.4v-5.0M870.8 426.4v5.0M986.7 602.4v-5.0M986.7 426.4v5.0M1100.5 602.4v-5.0M1100.5 426.4v5.0M756.8 454.8h5.0M1214.2 454.8h-5.0M756.8 499.2h5.0M1214.2 499.2h-5.0M756.8 542h5.0M1214.2 542h-5.0M756.8 586.8h5.0M1214.2 586.8h-5.0" stroke="#2b2b2b" stroke-width="2" fill="none" stroke-linejoin="miter"/>
<g clip-path="url(#cB2d)">
<polyline points="756.8,499.2 1153.2,499.2 1153.3,499.28 1153.4,499.3 1153.5,499.31 1153.6,499.32 1153.7,499.32 1153.8,499.33 1153.9,499.34 1154,499.34 1154.1,499.35 1154.2,499.35 1154.3,499.35 1154.4,499.35 1154.5,499.35 1154.6,499.35 1154.7,499.35 1154.8,499.34 1154.9,499.33 1155,499.33 1155.1,499.32 1155.2,499.3 1155.3,499.29 1155.4,499.28 1155.5,499.26 1155.6,499.25 1155.7,499.23 1155.8,499.22 1155.9,499.2 1156,499.18 1156.1,499.16 1156.2,499.14 1156.3,499.13 1156.4,499.11 1156.5,499.09 1156.6,499.07 1156.7,499.06 1156.8,499.04 1156.9,499.03 1157,499.02 1157.1,499.01 1157.2,499 1157.3,498.99 1157.4,498.98 1157.5,498.98 1157.6,498.98 1157.7,498.98 1157.8,498.98 1157.9,498.99 1158,498.99 1158.1,499 1158.2,499.01 1158.3,499.02 1158.4,499.04 1158.5,499.05 1158.6,499.07 1158.7,499.09 1158.8,499.11 1158.9,499.14 1159,499.16 1159.1,499.18 1159.2,499.21 1159.3,499.24 1159.4,499.26 1159.5,499.29 1159.6,499.31 1159.7,499.34 1159.8,499.36 1159.9,499.39 1160,499.41 1160.1,499.43 1160.2,499.45 1160.3,499.47 1160.4,499.48 1160.5,499.49 1160.6,499.5 1160.7,499.51 1160.8,499.52 1160.9,499.52 1161,499.52 1161.1,499.51 1161.2,499.51 1161.3,499.5 1161.4,499.48 1161.5,499.47 1161.6,499.45 1161.7,499.43 1161.8,499.4 1161.9,499.38 1162,499.35 1162.1,499.32 1162.2,499.28 1162.3,499.25 1162.4,499.21 1162.5,499.18 1162.6,499.14 1162.7,499.1 1162.8,499.07 1162.9,499.03 1163,498.99 1163.1,498.96 1163.2,498.92 1163.3,498.89 1163.4,498.86 1163.5,498.84 1163.6,498.81 1163.7,498.79 1163.8,498.77 1163.9,498.76 1164,498.75 1164.1,498.74 1164.2,498.74 1164.3,498.74 1164.4,498.75 1164.5,498.76 1164.6,498.78 1164.7,498.8 1164.8,498.82 1164.9,498.85 1165,498.88 1165.1,498.92 1165.2,498.96 1165.3,498.7 1165.4,498.82 1165.5,498.94 1165.6,499.06 1165.7,499.18 1165.8,499.31 1165.9,499.43 1166,499.55 1166.1,499.67 1166.2,499.79 1166.3,499.89 1166.4,500 1166.5,500.09 1166.6,500.18 1166.7,500.26 1166.8,500.32 1166.9,500.38 1167,500.43 1167.1,500.46 1167.2,500.49 1167.3,500.5 1167.4,500.5 1167.5,500.49 1167.6,500.46 1167.7,500.43 1167.8,500.38 1167.9,500.32 1168,500.26 1168.1,500.18 1168.2,500.09 1168.3,500 1168.4,499.89 1168.5,499.79 1168.6,499.67 1168.7,499.55 1168.8,499.43 1168.9,499.31 1169,499.18 1169.1,499.06 1169.2,498.94 1169.3,498.82 1169.4,498.7 1169.5,498.59 1169.6,498.48 1169.7,498.38 1169.8,498.29 1169.9,498.2 1170,498.13 1170.1,498.06 1170.2,498.01 1170.3,497.96 1170.4,497.93 1170.5,497.91 1170.6,497.9 1170.7,497.9 1170.8,497.92 1170.9,497.94 1171,497.98 1171.1,498.03 1171.2,498.09 1171.3,498.16 1171.4,498.24 1171.5,498.33 1171.6,498.43 1171.7,498.53 1171.8,498.64 1171.9,498.76 1172,498.88 1172.1,499 1172.2,499.12 1172.3,499.25 1172.4,499.37 1172.5,499.49 1172.6,499.61 1172.7,499.73 1172.8,499.84 1172.9,499.95 1173,500.04 1173.1,500.14 1173.2,500.22 1173.3,500.29 1173.4,500.35 1173.5,500.41 1173.6,500.46 1173.7,500.5 1173.8,500.54 1173.9,500.56 1174,500.57 1174.1,500.56 1174.2,500.55 1174.3,500.52 1174.4,500.47 1174.5,500.42 1174.6,500.35 1174.7,500.27 1174.8,500.18 1174.9,500.07 1175,499.96 1175.1,499.83 1175.2,499.7 1175.3,499.56 1175.4,499.41 1175.5,499.26 1175.6,499.1 1175.7,498.94 1175.8,498.78 1175.9,498.62 1176,498.46 1176.1,498.31 1176.2,498.16 1176.3,498.02 1176.4,497.88 1176.5,497.75 1176.6,497.64 1176.7,497.54 1176.8,497.45 1176.9,497.37 1177,497.31 1177.1,497.27 1177.2,497.24 1177.3,497.23 1177.4,497.24 1177.5,497.27 1177.6,497.32 1177.7,497.39 1177.8,497.47 1177.9,497.57 1178,497.69 1178.1,497.83 1178.2,497.99 1178.3,498.15 1178.4,498.34 1178.5,498.53 1178.6,498.74 1178.7,498.95 1178.8,499.17 1178.9,499.4 1179,499.63 1179.1,499.86 1179.2,500.09 1179.3,500.32 1179.4,500.54 1179.5,500.75 1179.6,500.95 1179.7,501.15 1179.8,501.32 1179.9,501.49 1180,501.63 1180.1,501.75 1180.2,501.86 1180.3,501.94 1180.4,501.99 1180.5,502.02 1180.6,502.03 1180.7,502.01 1180.8,501.96 1180.9,501.89 1181,501.78 1181.1,501.65 1181.2,501.5 1181.3,501.32 1181.4,501.11 1181.5,500.89 1181.6,500.64 1181.7,500.37 1181.8,500.09 1181.9,499.79 1182,499.48 1182.1,499.16 1182.2,498.83 1182.3,498.5 1182.4,498.17 1182.5,497.84 1182.6,497.51 1182.7,497.2 1182.8,496.89 1182.9,496.61 1183,496.33 1183.1,496.08 1183.2,495.86 1183.3,495.66 1183.4,495.49 1183.5,495.35 1183.6,495.24 1183.7,495.17 1183.8,495.13 1183.9,495.13 1184,495.17 1184.1,495.25 1184.2,495.37 1184.3,495.53 1184.4,495.72 1184.5,495.95 1184.6,496.22 1184.7,496.52 1184.8,496.86 1184.9,497.22 1185,497.61 1185.1,498.03 1185.2,498.46 1185.3,498.91 1185.4,499.38 1185.5,499.85 1185.6,500.33 1185.7,500.8 1185.8,501.28 1185.9,501.74 1186,502.19 1186.1,502.62 1186.2,503.03 1186.3,503.42 1186.4,503.77 1186.5,504.09 1186.6,504.36 1186.7,504.6 1186.8,504.79 1186.9,504.93 1187,505.02 1187.1,505.06 1187.2,505.04 1187.3,504.97 1187.4,504.84 1187.5,504.66 1187.6,504.42 1187.7,504.13 1187.8,503.78 1187.9,503.38 1188,502.94 1188.1,502.44 1188.2,501.91 1188.3,501.34 1188.4,500.74 1188.5,500.1 1188.6,499.45 1188.7,498.78 1188.8,498.1 1188.9,497.41 1189,496.72 1189.1,496.04 1189.2,495.38 1189.3,494.74 1189.4,494.12 1189.5,493.54 1189.6,493 1189.7,492.51 1189.8,492.06 1189.9,491.68 1190,491.36 1190.1,491.1 1190.2,490.91 1190.3,490.8 1190.4,490.77 1190.5,490.81 1190.6,490.93 1190.7,491.14 1190.8,491.42 1190.9,491.79 1191,492.23 1191.1,492.75 1191.2,493.34 1191.3,494 1191.4,494.72 1191.5,495.5 1191.6,496.33 1191.7,497.21 1191.8,498.13 1191.9,499.08 1192,500.05 1192.1,501.04 1192.2,502.03 1192.3,503.01 1192.4,503.98 1192.5,504.93 1192.6,505.85 1192.7,506.72 1192.8,507.54 1192.9,508.3 1193,509 1193.1,509.62 1193.2,510.15 1193.3,510.59 1193.4,510.93 1193.5,511.17 1193.6,511.31 1193.7,511.33 1193.8,511.24 1193.9,511.03 1194,510.71 1194.1,510.27 1194.2,509.72 1194.3,509.06 1194.4,508.28 1194.5,507.41 1194.6,506.44 1194.7,505.37 1194.8,504.23 1194.9,503.01 1195,501.73 1195.1,500.4 1195.2,499.03 1195.3,497.62 1195.4,496.2 1195.5,494.78 1195.6,493.36 1195.7,491.97 1195.8,490.62 1195.9,489.32 1196,488.08 1196.1,486.91 1196.2,485.84 1196.3,484.87 1196.4,484.01 1196.5,483.28 1196.6,482.67 1196.7,482.22 1196.8,481.91 1196.9,481.75 1197,481.76 1197.1,481.93 1197.2,482.27 1197.3,482.78 1197.4,483.45 1197.5,484.29 1197.6,485.28 1197.7,486.43 1197.8,487.73 1197.9,489.16 1198,490.72 1198.1,492.39 1198.2,494.16 1198.3,496.03 1198.4,497.96 1198.5,499.95 1198.6,501.98 1198.7,504.03 1198.8,506.07 1198.9,508.1 1199,510.09 1199.1,512.02 1199.2,513.88 1199.3,515.64 1199.4,517.28 1199.5,518.79 1199.6,520.15 1199.7,521.34 1199.8,522.35 1199.9,523.16 1200,523.77 1200.1,524.16 1200.2,524.32 1200.3,524.25 1200.4,523.94 1200.5,523.4 1200.6,522.61 1200.7,521.58 1200.8,520.32 1200.9,518.83 1201,517.13 1201.1,515.21 1201.2,513.11 1201.3,510.82 1201.4,508.37 1201.5,505.79 1201.6,503.08 1201.7,500.27 1201.8,497.39 1201.9,494.47 1202,491.52 1202.1,488.58 1202.2,485.67 1202.3,482.82 1202.4,480.07 1202.5,477.43 1202.6,474.94 1202.7,472.62 1202.8,470.5 1202.9,468.61 1203,466.96 1203.1,465.57 1203.2,464.47 1203.3,463.67 1203.4,463.2 1203.5,463.04 1203.6,463.23 1203.7,463.76 1203.8,464.63 1203.9,465.85 1204,467.42 1204.1,469.31 1204.2,471.53 1204.3,474.06 1204.4,476.89 1204.5,479.99 1204.6,483.34 1204.7,486.91 1204.8,490.68 1204.9,494.62 1205,498.68 1205.1,502.85 1205.2,507.07 1205.3,511.31 1205.4,515.54 1205.5,519.7 1205.6,523.77 1205.7,527.69 1205.8,531.44 1205.9,534.96 1206,538.23 1206.1,541.2 1206.2,543.85 1206.3,546.13 1206.4,548.02 1206.5,549.5 1206.6,550.53 1206.7,551.11 1206.8,551.2 1206.9,550.81 1207,549.93 1207.1,548.54 1207.2,546.67 1207.3,544.3 1207.4,541.45 1207.5,538.14 1207.6,534.39 1207.7,530.22 1207.8,525.67 1207.9,520.77 1208,515.55 1208.1,510.06 1208.2,504.35 1208.3,498.46 1208.4,492.44 1208.5,486.35 1208.6,480.25 1208.7,474.18 1208.8,468.22 1208.9,462.42 1209,456.83 1209.1,451.51 1209.2,446.53 1209.3,441.93 1209.4,437.76 1209.5,434.08 1209.6,430.93 1209.7,428.36 1209.8,426.39 1209.9,425.07 1210,424.41 1210.1,424.44 1210.2,425.18 1210.3,426.64 1210.4,428.81 1210.5,431.69 1210.6,435.27 1210.7,439.54 1210.8,444.46 1210.9,450.01 1211,456.15 1211.1,462.83 1211.2,470 1211.3,477.61 1211.4,485.6 1211.5,493.89 1211.6,502.42 1211.7,511.11 1211.8,519.89 1211.9,528.66 1212,537.36 1212.1,545.89 1212.2,554.17 1212.3,562.12 1212.4,569.66 1212.5,576.7 1212.6,583.17 1212.7,589 1212.8,594.11 1212.9,598.44 1213,601.93 1213.1,604.53 1213.2,606.2" stroke="#ff0000" stroke-width="2.1" fill="none" stroke-linejoin="round"/>
<path d="M1210.2 426V483" stroke="#ff0000" stroke-width="2.4"/>
<path d="M1214 485V602.4" stroke="#ff0000" stroke-width="2.6"/>
</g>
<path d="M1216 485V498" stroke="#a00000" stroke-width="2.2"/>
<g font-family='"Liberation Sans", sans-serif' font-size="33" fill="#2e2e2e">
<text transform="translate(757.8 642.93) scale(0.955 1)" text-anchor="middle">0</text>
<text transform="translate(871.8 642.93) scale(0.955 1)" text-anchor="middle">5</text>
<text transform="translate(987.7 642.93) scale(0.955 1)" text-anchor="middle">10</text>
<text transform="translate(1101.5 642.93) scale(0.955 1)" text-anchor="middle">15</text>
<text transform="translate(1215.2 642.93) scale(0.955 1)" text-anchor="middle">20</text>
<text transform="translate(745.8 469.01) scale(0.955 1)" text-anchor="end">1</text>
<text transform="translate(745.8 511.91) scale(0.955 1)" text-anchor="end">0</text>
<text transform="translate(745.8 556.71) scale(0.955 1)" text-anchor="end">-1</text>
<text transform="translate(745.8 599.61) scale(0.955 1)" text-anchor="end">-2</text>
</g>
<text transform="translate(985.3 684.95) scale(1 1)" text-anchor="middle" font-family='"Liberation Sans", sans-serif' font-size="35.5" fill="#2e2e2e">Time (s)</text>
<text transform="translate(700.7 514.6) rotate(-90)" x="0" y="0" text-anchor="middle" font-family='"Liberation Sans", sans-serif' font-size="35.5" fill="#2e2e2e">Pitch Rate (rad/s)</text>
<path d="M760.6 403.7L775 418.1M775 403.7L760.6 418.1" stroke="#555" stroke-width="1.8"/>
<text x="780" y="418.7" font-family='"Liberation Sans", sans-serif' font-size="33" fill="#2e2e2e">10</text>
<text x="817" y="401.9" font-family='"Liberation Sans", sans-serif' font-size="23" fill="#000">-2</text>
<clipPath id="cB3"><rect x="762.9" y="748.2" width="464.7" height="176.3"/></clipPath>
<clipPath id="cB3d"><rect x="762.9" y="747.7" width="466" height="177.3"/></clipPath>
<g clip-path="url(#cB3)">
<path d="M878.5 748.2V924.5M996 748.2V924.5M1111.9 748.2V924.5M762.9 753.2H1227.6M762.9 811.2H1227.6M762.9 868.8H1227.6" stroke="#dcdcdc" stroke-width="1.6" fill="none"/>
<path d="M786.02 745.9V924.5M809.14 745.9V924.5M832.26 745.9V924.5M855.38 745.9V924.5M902 745.9V924.5M925.5 745.9V924.5M949 745.9V924.5M972.5 745.9V924.5M1019.18 745.9V924.5M1042.36 745.9V924.5M1065.54 745.9V924.5M1088.72 745.9V924.5M1135.04 745.9V924.5M1158.18 745.9V924.5M1181.32 745.9V924.5M1204.46 745.9V924.5M764.9 913.36H1227.6M764.9 902.22H1227.6M764.9 891.08H1227.6M764.9 879.94H1227.6M764.9 857.28H1227.6M764.9 845.76H1227.6M764.9 834.24H1227.6M764.9 822.72H1227.6M764.9 799.6H1227.6M764.9 788H1227.6M764.9 776.4H1227.6M764.9 764.8H1227.6" stroke="#a3a3a3" stroke-width="1.4" stroke-dasharray="1.4 5.76" fill="none"/>
</g>
<path d="M762.9 748.2H1227.6V924.5H762.9ZM878.5 924.5v-5.0M878.5 748.2v5.0M996 924.5v-5.0M996 748.2v5.0M1111.9 924.5v-5.0M1111.9 748.2v5.0M762.9 753.2h5.0M1227.6 753.2h-5.0M762.9 811.2h5.0M1227.6 811.2h-5.0M762.9 868.8h5.0M1227.6 868.8h-5.0M762.9 924.5h5.0M1227.6 924.5h-5.0" stroke="#2b2b2b" stroke-width="2" fill="none" stroke-linejoin="miter"/>
<g clip-path="url(#cB3d)">
<polyline points="762.9,811.2 1167,811.2 1167.1,811.27 1167.2,811.28 1167.3,811.29 1167.4,811.3 1167.5,811.3 1167.6,811.31 1167.7,811.32 1167.8,811.32 1167.9,811.32 1168,811.33 1168.1,811.33 1168.2,811.33 1168.3,811.33 1168.4,811.32 1168.5,811.32 1168.6,811.32 1168.7,811.31 1168.8,811.3 1168.9,811.3 1169,811.29 1169.1,811.28 1169.2,811.27 1169.3,811.25 1169.4,811.24 1169.5,811.23 1169.6,811.21 1169.7,811.2 1169.8,811.18 1169.9,811.17 1170,811.15 1170.1,811.14 1170.2,811.12 1170.3,811.11 1170.4,811.1 1170.5,811.08 1170.6,811.07 1170.7,811.06 1170.8,811.05 1170.9,811.04 1171,811.03 1171.1,811.03 1171.2,811.02 1171.3,811.02 1171.4,811.02 1171.5,811.02 1171.6,811.02 1171.7,811.02 1171.8,811.03 1171.9,811.03 1172,811.04 1172.1,811.05 1172.2,811.07 1172.3,811.08 1172.4,811.09 1172.5,811.11 1172.6,811.13 1172.7,811.15 1172.8,811.17 1172.9,811.19 1173,811.21 1173.1,811.23 1173.2,811.25 1173.3,811.27 1173.4,811.29 1173.5,811.31 1173.6,811.34 1173.7,811.35 1173.8,811.37 1173.9,811.39 1174,811.41 1174.1,811.42 1174.2,811.43 1174.3,811.44 1174.4,811.45 1174.5,811.46 1174.6,811.46 1174.7,811.47 1174.8,811.46 1174.9,811.46 1175,811.46 1175.1,811.45 1175.2,811.44 1175.3,811.42 1175.4,811.41 1175.5,811.39 1175.6,811.37 1175.7,811.35 1175.8,811.32 1175.9,811.3 1176,811.27 1176.1,811.24 1176.2,811.21 1176.3,811.18 1176.4,811.15 1176.5,811.12 1176.6,811.09 1176.7,811.06 1176.8,811.03 1176.9,811 1177,810.97 1177.1,810.94 1177.2,810.92 1177.3,810.9 1177.4,810.88 1177.5,810.86 1177.6,810.84 1177.7,810.83 1177.8,810.82 1177.9,810.82 1178,810.82 1178.1,810.82 1178.2,810.83 1178.3,810.84 1178.4,810.85 1178.5,810.86 1178.6,810.88 1178.7,810.91 1178.8,810.93 1178.9,810.96 1179,811 1179.1,810.7 1179.2,810.82 1179.3,810.94 1179.4,811.06 1179.5,811.18 1179.6,811.31 1179.7,811.43 1179.8,811.55 1179.9,811.67 1180,811.79 1180.1,811.89 1180.2,812 1180.3,812.09 1180.4,812.18 1180.5,812.26 1180.6,812.32 1180.7,812.38 1180.8,812.43 1180.9,812.46 1181,812.49 1181.1,812.5 1181.2,812.5 1181.3,812.49 1181.4,812.46 1181.5,812.43 1181.6,812.38 1181.7,812.32 1181.8,812.26 1181.9,812.18 1182,812.09 1182.1,812 1182.2,811.89 1182.3,811.79 1182.4,811.67 1182.5,811.55 1182.6,811.43 1182.7,811.31 1182.8,811.18 1182.9,811.06 1183,810.94 1183.1,810.82 1183.2,810.7 1183.3,810.59 1183.4,810.48 1183.5,810.38 1183.6,810.29 1183.7,810.2 1183.8,810.13 1183.9,810.06 1184,810.01 1184.1,809.96 1184.2,809.93 1184.3,809.91 1184.4,809.9 1184.5,809.9 1184.6,809.92 1184.7,809.94 1184.8,809.98 1184.9,810.03 1185,810.09 1185.1,810.16 1185.2,810.24 1185.3,810.33 1185.4,810.43 1185.5,810.53 1185.6,810.64 1185.7,810.76 1185.8,810.88 1185.9,811 1186,811.12 1186.1,811.25 1186.2,811.37 1186.3,811.49 1186.4,811.61 1186.5,811.73 1186.6,811.84 1186.7,811.95 1186.8,812.04 1186.9,812.14 1187,812.22 1187.1,812.29 1187.2,812.35 1187.3,812.41 1187.4,812.45 1187.5,812.48 1187.6,812.49 1187.7,812.5 1187.8,812.49 1187.9,812.48 1188,812.45 1188.1,812.41 1188.2,812.35 1188.3,812.29 1188.4,812.22 1188.5,812.14 1188.6,812.04 1188.7,811.95 1188.8,811.84 1188.9,811.73 1189,811.62 1189.1,811.5 1189.2,811.38 1189.3,811.25 1189.4,811.12 1189.5,810.99 1189.6,810.85 1189.7,810.72 1189.8,810.59 1189.9,810.46 1190,810.33 1190.1,810.21 1190.2,810.1 1190.3,810 1190.4,809.9 1190.5,809.82 1190.6,809.74 1190.7,809.68 1190.8,809.63 1190.9,809.59 1191,809.57 1191.1,809.56 1191.2,809.57 1191.3,809.6 1191.4,809.64 1191.5,809.69 1191.6,809.76 1191.7,809.85 1191.8,809.95 1191.9,810.06 1192,810.19 1192.1,810.33 1192.2,810.48 1192.3,810.64 1192.4,810.81 1192.5,810.99 1192.6,811.18 1192.7,811.37 1192.8,811.56 1192.9,811.75 1193,811.94 1193.1,812.13 1193.2,812.31 1193.3,812.49 1193.4,812.66 1193.5,812.82 1193.6,812.97 1193.7,813.1 1193.8,813.22 1193.9,813.32 1194,813.41 1194.1,813.48 1194.2,813.52 1194.3,813.55 1194.4,813.55 1194.5,813.54 1194.6,813.5 1194.7,813.43 1194.8,813.35 1194.9,813.24 1195,813.11 1195.1,812.96 1195.2,812.79 1195.3,812.6 1195.4,812.4 1195.5,812.18 1195.6,811.94 1195.7,811.69 1195.8,811.43 1195.9,811.17 1196,810.89 1196.1,810.62 1196.2,810.34 1196.3,810.07 1196.4,809.8 1196.5,809.54 1196.6,809.28 1196.7,809.04 1196.8,808.82 1196.9,808.61 1197,808.42 1197.1,808.25 1197.2,808.11 1197.3,807.99 1197.4,807.9 1197.5,807.84 1197.6,807.81 1197.7,807.82 1197.8,807.85 1197.9,807.92 1198,808.01 1198.1,808.14 1198.2,808.31 1198.3,808.5 1198.4,808.72 1198.5,808.97 1198.6,809.25 1198.7,809.55 1198.8,809.88 1198.9,810.22 1199,810.58 1199.1,810.96 1199.2,811.35 1199.3,811.74 1199.4,812.14 1199.5,812.53 1199.6,812.93 1199.7,813.31 1199.8,813.69 1199.9,814.05 1200,814.39 1200.1,814.71 1200.2,815 1200.3,815.26 1200.4,815.5 1200.5,815.69 1200.6,815.85 1200.7,815.97 1200.8,816.04 1200.9,816.07 1201,816.06 1201.1,816 1201.2,815.89 1201.3,815.74 1201.4,815.54 1201.5,815.3 1201.6,815.01 1201.7,814.68 1201.8,814.31 1201.9,813.9 1202,813.45 1202.1,812.98 1202.2,812.48 1202.3,811.95 1202.4,811.41 1202.5,810.85 1202.6,810.28 1202.7,809.71 1202.8,809.14 1202.9,808.57 1203,808.02 1203.1,807.49 1203.2,806.98 1203.3,806.49 1203.4,806.04 1203.5,805.63 1203.6,805.26 1203.7,804.94 1203.8,804.67 1203.9,804.46 1204,804.31 1204.1,804.21 1204.2,804.18 1204.3,804.22 1204.4,804.32 1204.5,804.49 1204.6,804.73 1204.7,805.03 1204.8,805.4 1204.9,805.83 1205,806.32 1205.1,806.87 1205.2,807.47 1205.3,808.12 1205.4,808.82 1205.5,809.55 1205.6,810.31 1205.7,811.1 1205.8,811.91 1205.9,812.73 1206,813.55 1206.1,814.37 1206.2,815.18 1206.3,815.97 1206.4,816.73 1206.5,817.46 1206.6,818.14 1206.7,818.77 1206.8,819.35 1206.9,819.86 1207,820.31 1207.1,820.67 1207.2,820.96 1207.3,821.16 1207.4,821.27 1207.5,821.29 1207.6,821.21 1207.7,821.04 1207.8,820.77 1207.9,820.41 1208,819.95 1208.1,819.4 1208.2,818.76 1208.3,818.03 1208.4,817.22 1208.5,816.34 1208.6,815.38 1208.7,814.37 1208.8,813.31 1208.9,812.2 1209,811.06 1209.1,809.89 1209.2,808.71 1209.3,807.52 1209.4,806.35 1209.5,805.19 1209.6,804.06 1209.7,802.98 1209.8,801.95 1209.9,800.98 1210,800.09 1210.1,799.28 1210.2,798.57 1210.3,797.95 1210.4,797.45 1210.5,797.07 1210.6,796.82 1210.7,796.69 1210.8,796.7 1210.9,796.84 1211,797.12 1211.1,797.54 1211.2,798.1 1211.3,798.8 1211.4,799.62 1211.5,800.58 1211.6,801.66 1211.7,802.85 1211.8,804.14 1211.9,805.54 1212,807.01 1212.1,808.56 1212.2,810.17 1212.3,811.83 1212.4,813.51 1212.5,815.21 1212.6,816.92 1212.7,818.6 1212.8,820.26 1212.9,821.87 1213,823.41 1213.1,824.87 1213.2,826.24 1213.3,827.49 1213.4,828.62 1213.5,829.61 1213.6,830.45 1213.7,831.13 1213.8,831.64 1213.9,831.96 1214,832.1 1214.1,832.04 1214.2,831.78 1214.3,831.33 1214.4,830.67 1214.5,829.82 1214.6,828.77 1214.7,827.53 1214.8,826.11 1214.9,824.52 1215,822.77 1215.1,820.87 1215.2,818.83 1215.3,816.68 1215.4,814.43 1215.5,812.09 1215.6,809.7 1215.7,807.26 1215.8,804.81 1215.9,802.36 1216,799.95 1216.1,797.58 1216.2,795.29 1216.3,793.09 1216.4,791.02 1216.5,789.09 1216.6,787.33 1216.7,785.75 1216.8,784.38 1216.9,783.23 1217,782.31 1217.1,781.65 1217.2,781.25 1217.3,781.13 1217.4,781.28 1217.5,781.72 1217.6,782.45 1217.7,783.46 1217.8,784.76 1217.9,786.34 1218,788.19 1218.1,790.29 1218.2,792.64 1218.3,795.22 1218.4,798.01 1218.5,800.98 1218.6,804.12 1218.7,807.39 1218.8,810.77 1218.9,814.23 1219,817.75 1219.1,821.27 1219.2,824.79 1219.3,828.25 1219.4,831.63 1219.5,834.9 1219.6,838.01 1219.7,840.95 1219.8,843.67 1219.9,846.14 1220,848.34 1220.1,850.24 1220.2,851.81 1220.3,853.04 1220.4,853.9 1220.5,854.38 1220.6,854.46 1220.7,854.13 1220.8,853.39 1220.9,852.24 1221,850.68 1221.1,848.71 1221.2,846.34 1221.3,843.59 1221.4,840.47 1221.5,837 1221.6,833.22 1221.7,829.14 1221.8,824.8 1221.9,820.23 1222,815.48 1222.1,810.58 1222.2,805.58 1222.3,800.51 1222.4,795.44 1222.5,790.39 1222.6,785.43 1222.7,780.6 1222.8,775.96 1222.9,771.53 1223,767.39 1223.1,763.56 1223.2,760.1 1223.3,757.04 1223.4,754.42 1223.5,752.27 1223.6,750.64 1223.7,749.54 1223.8,748.99 1223.9,749.02 1224,749.63 1224.1,750.84 1224.2,752.65 1224.3,755.05 1224.4,758.02 1224.5,761.57 1224.6,765.67 1224.7,770.28 1224.8,775.39 1224.9,780.95 1225,786.91 1225.1,793.25 1225.2,799.89 1225.3,806.79 1225.4,813.88 1225.5,821.11 1225.6,828.41 1225.7,835.71 1225.8,842.94 1225.9,850.03 1226,856.92 1226.1,863.54 1226.2,869.81 1226.3,875.66 1226.4,881.05 1226.5,885.89 1226.6,890.14 1226.7,893.74 1226.8,896.65 1226.9,898.81 1227,900.2" stroke="#ff0000" stroke-width="2.1" fill="none" stroke-linejoin="round"/>
<path d="M1224.2 748V801" stroke="#ff0000" stroke-width="2.4"/>
<path d="M1227 804V900" stroke="#ff0000" stroke-width="2.4"/>
</g>
<path d="M1229.8 794.6V803.9" stroke="#a00000" stroke-width="2.2"/>
<g font-family='"Liberation Sans", sans-serif' font-size="34" fill="#2e2e2e">
<text transform="translate(763.9 967.04) scale(0.955 1)" text-anchor="middle">0</text>
<text transform="translate(879.5 967.04) scale(0.955 1)" text-anchor="middle">5</text>
<text transform="translate(997 967.04) scale(0.955 1)" text-anchor="middle">10</text>
<text transform="translate(1112.9 967.04) scale(0.955 1)" text-anchor="middle">15</text>
<text transform="translate(1228.6 967.04) scale(0.955 1)" text-anchor="middle">20</text>
<text transform="translate(751 765.47) scale(0.955 1)" text-anchor="end">5</text>
<text transform="translate(751 824.47) scale(0.955 1)" text-anchor="end">0</text>
<text transform="translate(751 881.47) scale(0.955 1)" text-anchor="end">-5</text>
<text transform="translate(751 937.47) scale(0.955 1)" text-anchor="end">-10</text>
</g>
<text transform="translate(995.05 1010.98) scale(1 1)" text-anchor="middle" font-family='"Liberation Sans", sans-serif' font-size="36.5" fill="#2e2e2e">Time (s)</text>
<text transform="translate(687.2 836.4) rotate(-90)" x="0" y="0" text-anchor="middle" font-family='"Liberation Sans", sans-serif' font-size="36.1" fill="#2e2e2e">Yaw Rate (rad/s)</text>
<path d="M766.6 726.6L781 741M781 726.6L766.6 741" stroke="#555" stroke-width="1.8"/>
<text x="786" y="741.6" font-family='"Liberation Sans", sans-serif' font-size="33" fill="#2e2e2e">10</text>
<text x="823" y="722.3" font-family='"Liberation Sans", sans-serif' font-size="23" fill="#000">-2</text>
<text x="6.6" y="33.2" font-family='"Liberation Sans", sans-serif' font-weight="bold" font-size="43.5" fill="#000">A</text>
<text x="678.5" y="32.3" font-family='"Liberation Sans", sans-serif' font-weight="bold" font-size="42.5" fill="#000">B</text>
<path d="M655 698H669M1238.5 698H1252" stroke="#e6e6e6" stroke-width="1.6"/>
<path d="M297.6 89.2H307.2M312.9 425.5H321.8M302.7 760H312.3" stroke="#efefef" stroke-width="1.3"/>
</svg>
</body></html>
